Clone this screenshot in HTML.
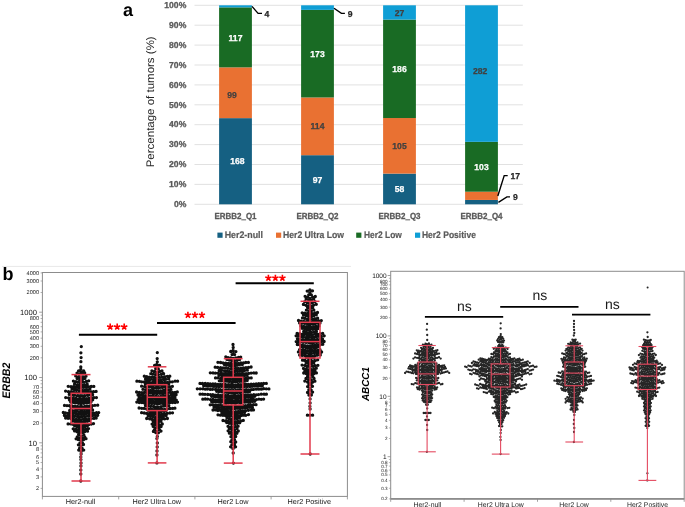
<!DOCTYPE html>
<html><head><meta charset="utf-8"><style>
html,body{margin:0;padding:0;background:#fff;width:685px;height:507px;overflow:hidden}
svg{display:block;will-change:transform}
text{font-family:"Liberation Sans",sans-serif;text-rendering:geometricPrecision}
.tk{font-size:8.6px;font-weight:bold;fill:#595959;stroke:#595959;stroke-width:0.3px}
.bl{font-size:8.6px;font-weight:bold;stroke-width:0.25px}
.cat{font-size:8.8px;font-weight:bold;fill:#595959;stroke:#595959;stroke-width:0.3px}
.ol{font-size:8.6px;font-weight:bold;fill:#262626;stroke:#262626;stroke-width:0.25px}
.lg{font-size:9.5px;font-weight:bold;fill:#595959;stroke:#595959;stroke-width:0.2px}
.yt{font-size:11px;fill:#262626}
.pl{font-size:18px;font-weight:bold;fill:#000}
.bk{font-size:7.6px;fill:#111}
.sk{font-size:5.6px;fill:#222}
.bkr{font-size:6.5px;fill:#111}
.skr{font-size:4.6px;fill:#222}
.xl{font-size:7.3px;fill:#222}
.xr{font-size:6.9px;fill:#222}
.yb{font-size:11px;font-weight:bold;font-style:italic;fill:#000}
.ns{font-size:14px;fill:#1a1a1a}
</style></head><body>
<svg width="685" height="507" viewBox="0 0 685 507">
<line x1="194.5" x2="522.8" y1="204.3" y2="204.3" stroke="#d9d9d9" stroke-width="0.8"/>
<text x="186.3" y="207" text-anchor="end" class="tk">0%</text>
<line x1="194.5" x2="522.8" y1="184.4" y2="184.4" stroke="#d9d9d9" stroke-width="0.8"/>
<text x="186.3" y="187.1" text-anchor="end" class="tk">10%</text>
<line x1="194.5" x2="522.8" y1="164.5" y2="164.5" stroke="#d9d9d9" stroke-width="0.8"/>
<text x="186.3" y="167.2" text-anchor="end" class="tk">20%</text>
<line x1="194.5" x2="522.8" y1="144.6" y2="144.6" stroke="#d9d9d9" stroke-width="0.8"/>
<text x="186.3" y="147.3" text-anchor="end" class="tk">30%</text>
<line x1="194.5" x2="522.8" y1="124.7" y2="124.7" stroke="#d9d9d9" stroke-width="0.8"/>
<text x="186.3" y="127.4" text-anchor="end" class="tk">40%</text>
<line x1="194.5" x2="522.8" y1="104.8" y2="104.8" stroke="#d9d9d9" stroke-width="0.8"/>
<text x="186.3" y="107.5" text-anchor="end" class="tk">50%</text>
<line x1="194.5" x2="522.8" y1="84.9" y2="84.9" stroke="#d9d9d9" stroke-width="0.8"/>
<text x="186.3" y="87.6" text-anchor="end" class="tk">60%</text>
<line x1="194.5" x2="522.8" y1="65" y2="65" stroke="#d9d9d9" stroke-width="0.8"/>
<text x="186.3" y="67.7" text-anchor="end" class="tk">70%</text>
<line x1="194.5" x2="522.8" y1="45.1" y2="45.1" stroke="#d9d9d9" stroke-width="0.8"/>
<text x="186.3" y="47.8" text-anchor="end" class="tk">80%</text>
<line x1="194.5" x2="522.8" y1="25.2" y2="25.2" stroke="#d9d9d9" stroke-width="0.8"/>
<text x="186.3" y="27.9" text-anchor="end" class="tk">90%</text>
<line x1="194.5" x2="522.8" y1="5.3" y2="5.3" stroke="#d9d9d9" stroke-width="0.8"/>
<text x="186.3" y="8" text-anchor="end" class="tk">100%</text>
<rect x="219.1" y="118.14" width="32.8" height="86.16" fill="#156082"/>
<text x="237.3" y="164.3" text-anchor="middle" class="bl" fill="#fff" stroke="#fff">168</text>
<rect x="219.1" y="67.36" width="32.8" height="50.78" fill="#E97132"/>
<text x="232" y="97.8" text-anchor="middle" class="bl" fill="#404040" stroke="#404040">99</text>
<rect x="219.1" y="7.35" width="32.8" height="60.01" fill="#196B24"/>
<text x="235.5" y="40.5" text-anchor="middle" class="bl" fill="#fff" stroke="#fff">117</text>
<rect x="219.1" y="5.30" width="32.8" height="2.05" fill="#0F9ED5"/>
<text x="235.5" y="219.2" text-anchor="middle" class="cat" textLength="42" lengthAdjust="spacingAndGlyphs">ERBB2_Q1</text>
<rect x="301.1" y="155.18" width="32.8" height="49.12" fill="#156082"/>
<text x="317.5" y="182.8" text-anchor="middle" class="bl" fill="#fff" stroke="#fff">97</text>
<rect x="301.1" y="97.46" width="32.8" height="57.73" fill="#E97132"/>
<text x="317.5" y="129.4" text-anchor="middle" class="bl" fill="#404040" stroke="#404040">114</text>
<rect x="301.1" y="9.86" width="32.8" height="87.60" fill="#196B24"/>
<text x="317.5" y="56.8" text-anchor="middle" class="bl" fill="#fff" stroke="#fff">173</text>
<rect x="301.1" y="5.30" width="32.8" height="4.56" fill="#0F9ED5"/>
<text x="317.5" y="219.2" text-anchor="middle" class="cat" textLength="42" lengthAdjust="spacingAndGlyphs">ERBB2_Q2</text>
<rect x="383.1" y="173.60" width="32.8" height="30.70" fill="#156082"/>
<text x="399.5" y="192.1" text-anchor="middle" class="bl" fill="#fff" stroke="#fff">58</text>
<rect x="383.1" y="118.03" width="32.8" height="55.57" fill="#E97132"/>
<text x="399.5" y="148.9" text-anchor="middle" class="bl" fill="#404040" stroke="#404040">105</text>
<rect x="383.1" y="19.59" width="32.8" height="98.44" fill="#196B24"/>
<text x="399.5" y="71.9" text-anchor="middle" class="bl" fill="#fff" stroke="#fff">186</text>
<rect x="383.1" y="5.30" width="32.8" height="14.29" fill="#0F9ED5"/>
<text x="399.5" y="15.5" text-anchor="middle" class="bl" fill="#404040" stroke="#404040">27</text>
<text x="399.5" y="219.2" text-anchor="middle" class="cat" textLength="42" lengthAdjust="spacingAndGlyphs">ERBB2_Q3</text>
<rect x="465.1" y="199.94" width="32.8" height="4.36" fill="#156082"/>
<rect x="465.1" y="191.71" width="32.8" height="8.23" fill="#E97132"/>
<rect x="465.1" y="141.84" width="32.8" height="49.87" fill="#196B24"/>
<text x="481.5" y="169.9" text-anchor="middle" class="bl" fill="#fff" stroke="#fff">103</text>
<rect x="465.1" y="5.30" width="32.8" height="136.54" fill="#0F9ED5"/>
<text x="480.1" y="74.1" text-anchor="middle" class="bl" fill="#404040" stroke="#404040">282</text>
<text x="481.5" y="219.2" text-anchor="middle" class="cat" textLength="42" lengthAdjust="spacingAndGlyphs">ERBB2_Q4</text>
<polyline points="252,6.4 258.1,13.4 262,13.4" stroke="#000" stroke-width="1.4" fill="none"/>
<text x="264.6" y="16.9" class="ol">4</text>
<polyline points="334,8.2 341.4,13.4 344.9,13.4" stroke="#000" stroke-width="1.4" fill="none"/>
<text x="347.7" y="17" class="ol">9</text>
<polyline points="497.8,196 504.2,175.6 507.7,175.6" stroke="#000" stroke-width="1.4" fill="none"/>
<text x="510.6" y="178.8" class="ol">17</text>
<polyline points="498.4,202.3 506.9,196.9 510,196.9" stroke="#000" stroke-width="1.4" fill="none"/>
<text x="513" y="200.4" class="ol">9</text>
<rect x="217.4" y="232.6" width="5.2" height="5.2" fill="#156082"/>
<text x="224.7" y="238.4" class="lg" textLength="38.3" lengthAdjust="spacingAndGlyphs">Her2-null</text>
<rect x="276" y="232.6" width="5.2" height="5.2" fill="#E97132"/>
<text x="283" y="238.4" class="lg" textLength="61" lengthAdjust="spacingAndGlyphs">Her2 Ultra Low</text>
<rect x="356.2" y="232.6" width="5.2" height="5.2" fill="#196B24"/>
<text x="364" y="238.4" class="lg" textLength="37.8" lengthAdjust="spacingAndGlyphs">Her2 Low</text>
<rect x="415" y="232.6" width="5.2" height="5.2" fill="#0F9ED5"/>
<text x="421.9" y="238.4" class="lg" textLength="54" lengthAdjust="spacingAndGlyphs">Her2 Positive</text>
<text transform="translate(153.8,101.8) rotate(-90)" text-anchor="middle" class="yt" textLength="131" lengthAdjust="spacingAndGlyphs">Percentage of tumors (%)</text>
<text x="123" y="16" class="pl">a</text>
<line x1="2" x2="351" y1="266.4" y2="266.4" stroke="#e8e8e8" stroke-width="1"/>
<text x="2.6" y="279.8" class="pl">b</text>
<rect x="42.4" y="272.5" width="305.0" height="223.9" fill="none" stroke="#8c8c8c" stroke-width="1"/>
<line x1="40.6" x2="42.4" y1="488.4" y2="488.4" stroke="#8c8c8c" stroke-width="0.7"/>
<text x="39" y="490.2" text-anchor="end" class="sk">2</text>
<line x1="40.6" x2="42.4" y1="476.9" y2="476.9" stroke="#8c8c8c" stroke-width="0.7"/>
<text x="39" y="478.7" text-anchor="end" class="sk">3</text>
<line x1="40.6" x2="42.4" y1="468.8" y2="468.8" stroke="#8c8c8c" stroke-width="0.7"/>
<text x="39" y="470.6" text-anchor="end" class="sk">4</text>
<line x1="40.6" x2="42.4" y1="462.5" y2="462.5" stroke="#8c8c8c" stroke-width="0.7"/>
<text x="39" y="464.3" text-anchor="end" class="sk">5</text>
<line x1="40.6" x2="42.4" y1="457.3" y2="457.3" stroke="#8c8c8c" stroke-width="0.7"/>
<text x="39" y="459.1" text-anchor="end" class="sk">6</text>
<line x1="40.6" x2="42.4" y1="452.9" y2="452.9" stroke="#8c8c8c" stroke-width="0.7"/>
<line x1="40.6" x2="42.4" y1="449.1" y2="449.1" stroke="#8c8c8c" stroke-width="0.7"/>
<text x="39" y="450.9" text-anchor="end" class="sk">8</text>
<line x1="40.6" x2="42.4" y1="445.8" y2="445.8" stroke="#8c8c8c" stroke-width="0.7"/>
<line x1="39.2" x2="42.4" y1="442.8" y2="442.8" stroke="#8c8c8c" stroke-width="0.8"/>
<text x="37" y="445.5" text-anchor="end" class="bk">10</text>
<line x1="40.6" x2="42.4" y1="423.1" y2="423.1" stroke="#8c8c8c" stroke-width="0.7"/>
<text x="39" y="424.9" text-anchor="end" class="sk">20</text>
<line x1="40.6" x2="42.4" y1="411.6" y2="411.6" stroke="#8c8c8c" stroke-width="0.7"/>
<text x="39" y="413.4" text-anchor="end" class="sk">30</text>
<line x1="40.6" x2="42.4" y1="403.5" y2="403.5" stroke="#8c8c8c" stroke-width="0.7"/>
<text x="39" y="405.3" text-anchor="end" class="sk">40</text>
<line x1="40.6" x2="42.4" y1="397.2" y2="397.2" stroke="#8c8c8c" stroke-width="0.7"/>
<text x="39" y="399" text-anchor="end" class="sk">50</text>
<line x1="40.6" x2="42.4" y1="392" y2="392" stroke="#8c8c8c" stroke-width="0.7"/>
<text x="39" y="393.8" text-anchor="end" class="sk">60</text>
<line x1="40.6" x2="42.4" y1="387.6" y2="387.6" stroke="#8c8c8c" stroke-width="0.7"/>
<text x="39" y="389.4" text-anchor="end" class="sk">70</text>
<line x1="40.6" x2="42.4" y1="383.8" y2="383.8" stroke="#8c8c8c" stroke-width="0.7"/>
<line x1="40.6" x2="42.4" y1="380.5" y2="380.5" stroke="#8c8c8c" stroke-width="0.7"/>
<line x1="39.2" x2="42.4" y1="377.5" y2="377.5" stroke="#8c8c8c" stroke-width="0.8"/>
<text x="37" y="380.2" text-anchor="end" class="bk">100</text>
<line x1="40.6" x2="42.4" y1="357.8" y2="357.8" stroke="#8c8c8c" stroke-width="0.7"/>
<text x="39" y="359.6" text-anchor="end" class="sk">200</text>
<line x1="40.6" x2="42.4" y1="346.3" y2="346.3" stroke="#8c8c8c" stroke-width="0.7"/>
<text x="39" y="348.1" text-anchor="end" class="sk">300</text>
<line x1="40.6" x2="42.4" y1="338.2" y2="338.2" stroke="#8c8c8c" stroke-width="0.7"/>
<text x="39" y="340" text-anchor="end" class="sk">400</text>
<line x1="40.6" x2="42.4" y1="331.9" y2="331.9" stroke="#8c8c8c" stroke-width="0.7"/>
<text x="39" y="333.7" text-anchor="end" class="sk">500</text>
<line x1="40.6" x2="42.4" y1="326.7" y2="326.7" stroke="#8c8c8c" stroke-width="0.7"/>
<text x="39" y="328.5" text-anchor="end" class="sk">600</text>
<line x1="40.6" x2="42.4" y1="322.3" y2="322.3" stroke="#8c8c8c" stroke-width="0.7"/>
<line x1="40.6" x2="42.4" y1="318.5" y2="318.5" stroke="#8c8c8c" stroke-width="0.7"/>
<text x="39" y="320.3" text-anchor="end" class="sk">800</text>
<line x1="40.6" x2="42.4" y1="315.2" y2="315.2" stroke="#8c8c8c" stroke-width="0.7"/>
<line x1="39.2" x2="42.4" y1="312.2" y2="312.2" stroke="#8c8c8c" stroke-width="0.8"/>
<text x="37" y="314.9" text-anchor="end" class="bk">1000</text>
<line x1="40.6" x2="42.4" y1="292.5" y2="292.5" stroke="#8c8c8c" stroke-width="0.7"/>
<text x="39" y="294.3" text-anchor="end" class="sk">2000</text>
<line x1="40.6" x2="42.4" y1="281" y2="281" stroke="#8c8c8c" stroke-width="0.7"/>
<text x="39" y="282.8" text-anchor="end" class="sk">3000</text>
<line x1="40.6" x2="42.4" y1="272.9" y2="272.9" stroke="#8c8c8c" stroke-width="0.7"/>
<text x="39" y="274.7" text-anchor="end" class="sk">4000</text>
<line x1="42.4" x2="42.4" y1="496.4" y2="499.4" stroke="#8c8c8c" stroke-width="0.8"/>
<line x1="118.7" x2="118.7" y1="496.4" y2="499.4" stroke="#8c8c8c" stroke-width="0.8"/>
<line x1="194.9" x2="194.9" y1="496.4" y2="499.4" stroke="#8c8c8c" stroke-width="0.8"/>
<line x1="271.1" x2="271.1" y1="496.4" y2="499.4" stroke="#8c8c8c" stroke-width="0.8"/>
<line x1="347.4" x2="347.4" y1="496.4" y2="499.4" stroke="#8c8c8c" stroke-width="0.8"/>
<text x="80.5" y="504.2" text-anchor="middle" class="xl">Her2-null</text>
<text x="156.8" y="504.2" text-anchor="middle" class="xl">Her2 Ultra Low</text>
<text x="233" y="504.2" text-anchor="middle" class="xl">Her2 Low</text>
<text x="309.3" y="504.2" text-anchor="middle" class="xl">Her2 Positive</text>
<text transform="translate(9.8,380.6) rotate(-90)" text-anchor="middle" class="yb" textLength="36" lengthAdjust="spacingAndGlyphs">ERBB2</text>
<rect x="390.7" y="271.3" width="293.5" height="227.5" fill="none" stroke="#8c8c8c" stroke-width="1"/>
<line x1="390.7" x2="684.2" y1="498.8" y2="498.8" stroke="#8c8c8c" stroke-width="1.8"/>
<line x1="388.9" x2="390.7" y1="498.9" y2="498.9" stroke="#8c8c8c" stroke-width="0.6"/>
<text x="387.6" y="500.4" text-anchor="end" class="skr">0.2</text>
<line x1="388.9" x2="390.7" y1="488.3" y2="488.3" stroke="#8c8c8c" stroke-width="0.6"/>
<text x="387.6" y="489.8" text-anchor="end" class="skr">0.3</text>
<line x1="388.9" x2="390.7" y1="480.7" y2="480.7" stroke="#8c8c8c" stroke-width="0.6"/>
<text x="387.6" y="482.2" text-anchor="end" class="skr">0.4</text>
<line x1="388.9" x2="390.7" y1="474.9" y2="474.9" stroke="#8c8c8c" stroke-width="0.6"/>
<text x="387.6" y="476.4" text-anchor="end" class="skr">0.5</text>
<line x1="388.9" x2="390.7" y1="470.1" y2="470.1" stroke="#8c8c8c" stroke-width="0.6"/>
<text x="387.6" y="471.6" text-anchor="end" class="skr">0.6</text>
<line x1="388.9" x2="390.7" y1="466.1" y2="466.1" stroke="#8c8c8c" stroke-width="0.6"/>
<text x="387.6" y="467.6" text-anchor="end" class="skr">0.7</text>
<line x1="388.9" x2="390.7" y1="462.6" y2="462.6" stroke="#8c8c8c" stroke-width="0.6"/>
<text x="387.6" y="464.1" text-anchor="end" class="skr">0.8</text>
<line x1="388.9" x2="390.7" y1="459.5" y2="459.5" stroke="#8c8c8c" stroke-width="0.6"/>
<line x1="387.6" x2="390.7" y1="456.7" y2="456.7" stroke="#8c8c8c" stroke-width="0.8"/>
<text x="386.6" y="458.9" text-anchor="end" class="bkr">1</text>
<line x1="388.9" x2="390.7" y1="438.5" y2="438.5" stroke="#8c8c8c" stroke-width="0.6"/>
<text x="387.6" y="440" text-anchor="end" class="skr">2</text>
<line x1="388.9" x2="390.7" y1="427.9" y2="427.9" stroke="#8c8c8c" stroke-width="0.6"/>
<text x="387.6" y="429.4" text-anchor="end" class="skr">3</text>
<line x1="388.9" x2="390.7" y1="420.3" y2="420.3" stroke="#8c8c8c" stroke-width="0.6"/>
<text x="387.6" y="421.8" text-anchor="end" class="skr">4</text>
<line x1="388.9" x2="390.7" y1="414.5" y2="414.5" stroke="#8c8c8c" stroke-width="0.6"/>
<text x="387.6" y="416" text-anchor="end" class="skr">5</text>
<line x1="388.9" x2="390.7" y1="409.7" y2="409.7" stroke="#8c8c8c" stroke-width="0.6"/>
<text x="387.6" y="411.2" text-anchor="end" class="skr">6</text>
<line x1="388.9" x2="390.7" y1="405.7" y2="405.7" stroke="#8c8c8c" stroke-width="0.6"/>
<text x="387.6" y="407.2" text-anchor="end" class="skr">7</text>
<line x1="388.9" x2="390.7" y1="402.2" y2="402.2" stroke="#8c8c8c" stroke-width="0.6"/>
<text x="387.6" y="403.7" text-anchor="end" class="skr">8</text>
<line x1="388.9" x2="390.7" y1="399.1" y2="399.1" stroke="#8c8c8c" stroke-width="0.6"/>
<line x1="387.6" x2="390.7" y1="396.3" y2="396.3" stroke="#8c8c8c" stroke-width="0.8"/>
<text x="386.6" y="398.5" text-anchor="end" class="bkr">10</text>
<line x1="388.9" x2="390.7" y1="378.1" y2="378.1" stroke="#8c8c8c" stroke-width="0.6"/>
<text x="387.6" y="379.6" text-anchor="end" class="skr">20</text>
<line x1="388.9" x2="390.7" y1="367.5" y2="367.5" stroke="#8c8c8c" stroke-width="0.6"/>
<text x="387.6" y="369" text-anchor="end" class="skr">30</text>
<line x1="388.9" x2="390.7" y1="359.9" y2="359.9" stroke="#8c8c8c" stroke-width="0.6"/>
<text x="387.6" y="361.4" text-anchor="end" class="skr">40</text>
<line x1="388.9" x2="390.7" y1="354.1" y2="354.1" stroke="#8c8c8c" stroke-width="0.6"/>
<text x="387.6" y="355.6" text-anchor="end" class="skr">50</text>
<line x1="388.9" x2="390.7" y1="349.3" y2="349.3" stroke="#8c8c8c" stroke-width="0.6"/>
<text x="387.6" y="350.8" text-anchor="end" class="skr">60</text>
<line x1="388.9" x2="390.7" y1="345.3" y2="345.3" stroke="#8c8c8c" stroke-width="0.6"/>
<text x="387.6" y="346.8" text-anchor="end" class="skr">70</text>
<line x1="388.9" x2="390.7" y1="341.8" y2="341.8" stroke="#8c8c8c" stroke-width="0.6"/>
<text x="387.6" y="343.3" text-anchor="end" class="skr">80</text>
<line x1="388.9" x2="390.7" y1="338.7" y2="338.7" stroke="#8c8c8c" stroke-width="0.6"/>
<line x1="387.6" x2="390.7" y1="335.9" y2="335.9" stroke="#8c8c8c" stroke-width="0.8"/>
<text x="386.6" y="338.1" text-anchor="end" class="bkr">100</text>
<line x1="388.9" x2="390.7" y1="317.7" y2="317.7" stroke="#8c8c8c" stroke-width="0.6"/>
<text x="387.6" y="319.2" text-anchor="end" class="skr">200</text>
<line x1="388.9" x2="390.7" y1="307.1" y2="307.1" stroke="#8c8c8c" stroke-width="0.6"/>
<text x="387.6" y="308.6" text-anchor="end" class="skr">300</text>
<line x1="388.9" x2="390.7" y1="299.5" y2="299.5" stroke="#8c8c8c" stroke-width="0.6"/>
<text x="387.6" y="301" text-anchor="end" class="skr">400</text>
<line x1="388.9" x2="390.7" y1="293.7" y2="293.7" stroke="#8c8c8c" stroke-width="0.6"/>
<text x="387.6" y="295.2" text-anchor="end" class="skr">500</text>
<line x1="388.9" x2="390.7" y1="288.9" y2="288.9" stroke="#8c8c8c" stroke-width="0.6"/>
<text x="387.6" y="290.4" text-anchor="end" class="skr">600</text>
<line x1="388.9" x2="390.7" y1="284.9" y2="284.9" stroke="#8c8c8c" stroke-width="0.6"/>
<text x="387.6" y="286.4" text-anchor="end" class="skr">700</text>
<line x1="388.9" x2="390.7" y1="281.4" y2="281.4" stroke="#8c8c8c" stroke-width="0.6"/>
<text x="387.6" y="282.9" text-anchor="end" class="skr">800</text>
<line x1="388.9" x2="390.7" y1="278.3" y2="278.3" stroke="#8c8c8c" stroke-width="0.6"/>
<line x1="387.6" x2="390.7" y1="275.5" y2="275.5" stroke="#8c8c8c" stroke-width="0.8"/>
<text x="386.6" y="277.7" text-anchor="end" class="bkr">1000</text>
<line x1="390.7" x2="390.7" y1="498.8" y2="501.8" stroke="#8c8c8c" stroke-width="0.8"/>
<line x1="464.1" x2="464.1" y1="498.8" y2="501.8" stroke="#8c8c8c" stroke-width="0.8"/>
<line x1="537.5" x2="537.5" y1="498.8" y2="501.8" stroke="#8c8c8c" stroke-width="0.8"/>
<line x1="610.8" x2="610.8" y1="498.8" y2="501.8" stroke="#8c8c8c" stroke-width="0.8"/>
<line x1="684.2" x2="684.2" y1="498.8" y2="501.8" stroke="#8c8c8c" stroke-width="0.8"/>
<text x="427.4" y="506.6" text-anchor="middle" class="xr">Her2-null</text>
<text x="500.8" y="506.6" text-anchor="middle" class="xr">Her2 Ultra Low</text>
<text x="574.1" y="506.6" text-anchor="middle" class="xr">Her2 Low</text>
<text x="647.5" y="506.6" text-anchor="middle" class="xr">Her2 Positive</text>
<text transform="translate(369.4,384.1) rotate(-90)" text-anchor="middle" class="yb" textLength="34" lengthAdjust="spacingAndGlyphs" style="font-size:10.2px">ABCC1</text>
<path d="M80.8 366.9h0M80.8 369.4h0M78.6 370.8h0M80.9 372.1h0M83.7 371.0h0M82.4 373.9h0M84.7 372.9h0M79.6 374.1h0M77.0 373.1h0M75.7 375.9h0M78.3 376.9h0M81.0 377.3h0M83.6 376.8h0M86.0 376.2h0M82.3 379.7h0M84.9 378.4h0M79.9 379.4h0M77.1 378.6h0M73.4 381.1h0M75.9 381.6h0M78.4 382.0h0M81.0 382.5h0M83.5 382.1h0M86.3 381.5h0M88.7 380.8h0M82.4 385.3h0M84.8 384.9h0M87.2 384.2h0M79.6 385.2h0M77.0 384.9h0M74.5 384.1h0M68.2 386.3h0M71.0 386.7h0M73.5 386.7h0M75.9 387.1h0M78.6 387.6h0M80.8 387.6h0M83.4 387.3h0M86.1 387.2h0M88.5 386.6h0M91.2 386.5h0M93.8 386.4h0M82.4 390.3h0M85.0 390.2h0M87.5 389.8h0M89.9 389.1h0M79.6 390.6h0M77.0 389.9h0M74.5 389.5h0M72.0 389.0h0M65.6 391.1h0M68.4 391.7h0M70.6 391.8h0M73.3 392.1h0M75.7 392.6h0M78.7 392.8h0M81.0 392.9h0M83.4 392.7h0M86.0 392.6h0M88.5 392.0h0M91.4 391.9h0M93.6 391.7h0M96.1 391.4h0M82.2 395.8h0M84.7 395.7h0M87.4 395.3h0M89.9 394.7h0M92.6 394.7h0M79.9 396.0h0M77.3 395.7h0M74.5 395.2h0M72.0 394.7h0M69.3 394.4h0M65.7 397.6h0M68.5 397.8h0M70.7 397.8h0M73.2 398.0h0M75.8 398.4h0M78.6 398.8h0M81.0 398.9h0M83.7 398.4h0M86.2 398.6h0M88.8 398.2h0M91.2 397.7h0M93.9 397.6h0M96.4 397.6h0M82.4 401.2h0M84.7 400.8h0M87.6 400.7h0M89.8 400.3h0M92.7 399.8h0M79.7 401.3h0M77.0 400.7h0M74.8 400.6h0M72.1 400.3h0M69.5 399.9h0M70.7 402.0h0M73.4 402.4h0M75.9 402.8h0M78.6 403.3h0M81.0 403.8h0M83.7 403.3h0M86.3 402.9h0M88.7 402.5h0M91.0 402.1h0M82.1 406.6h0M84.9 406.4h0M87.3 406.2h0M89.9 406.0h0M92.3 405.7h0M94.9 405.3h0M97.7 405.2h0M79.8 406.7h0M77.4 406.4h0M74.7 406.1h0M72.1 406.0h0M69.5 405.7h0M67.0 405.6h0M64.5 405.4h0M71.0 407.8h0M73.2 407.9h0M75.9 408.3h0M78.3 408.7h0M81.1 409.4h0M83.7 408.7h0M86.2 408.5h0M88.5 408.2h0M91.4 407.6h0M82.5 411.8h0M84.7 411.3h0M87.4 410.9h0M89.8 410.5h0M92.6 410.0h0M79.7 411.6h0M77.0 411.2h0M74.7 410.9h0M71.9 410.8h0M69.7 410.4h0M63.3 412.5h0M65.5 412.8h0M68.4 413.2h0M70.7 413.1h0M73.5 413.5h0M76.0 413.6h0M78.3 414.1h0M81.0 414.0h0M83.7 414.0h0M86.2 413.6h0M88.8 413.3h0M91.4 413.2h0M93.7 413.1h0M96.5 412.7h0M98.7 412.6h0M82.1 416.7h0M84.7 416.5h0M87.5 416.2h0M89.9 415.9h0M92.4 415.6h0M94.9 415.3h0M97.7 415.3h0M79.6 416.8h0M77.4 416.4h0M74.8 416.3h0M72.1 416.2h0M69.5 415.8h0M67.1 415.7h0M64.4 415.4h0M65.6 418.0h0M68.1 418.3h0M70.9 418.6h0M73.2 418.8h0M76.1 419.4h0M78.5 419.4h0M80.9 419.6h0M83.5 419.3h0M86.1 419.1h0M88.9 419.2h0M91.2 418.6h0M94.0 418.4h0M96.2 418.0h0M82.1 422.2h0M84.6 421.7h0M87.2 421.3h0M89.7 420.7h0M79.6 422.1h0M77.2 421.8h0M74.7 421.4h0M72.2 421.0h0M68.1 423.9h0M70.9 423.9h0M73.5 424.6h0M76.0 424.8h0M78.6 424.9h0M81.0 425.4h0M83.7 425.2h0M86.2 424.8h0M88.8 424.5h0M91.3 424.0h0M93.5 423.6h0M82.3 427.6h0M84.9 426.9h0M87.4 425.8h0M79.9 427.7h0M77.2 426.8h0M74.7 425.9h0M73.2 428.8h0M75.8 429.3h0M78.7 429.7h0M80.9 430.1h0M83.6 429.8h0M86.2 429.2h0M88.5 428.6h0M82.3 432.3h0M84.6 431.7h0M87.5 431.2h0M79.8 432.5h0M77.2 431.8h0M74.6 430.9h0M78.6 434.6h0M81.0 436.1h0M83.8 434.8h0M82.1 438.0h0M84.7 436.8h0M79.9 437.8h0M77.3 436.8h0M76.1 438.8h0M78.2 439.6h0M81.0 440.8h0M83.5 439.7h0M86.0 438.7h0M82.4 442.8h0M79.9 443.1h0M78.4 444.8h0M81.0 446.2h0M83.5 444.5h0M82.2 448.5h0M79.6 448.2h0M78.7 450.1h0M81.1 451.6h0M83.7 450.1h0M81.1 454.0h0M80.8 457.0h0M80.9 459.6h0M81.3 346.6h0M80.9 352.8h0M81.1 357.6h0M80.9 361.7h0M81.0 463.0h0M80.9 466.0h0M80.8 470.0h0M80.8 474.0h0M80.8 481.0h0" stroke="#111" stroke-width="3.3" stroke-linecap="round" fill="none"/>
<path d="M157.3 361.8h0M156.9 364.2h0M154.6 365.5h0M157.2 366.9h0M159.6 365.4h0M158.3 368.9h0M155.7 368.7h0M151.9 370.8h0M154.5 371.5h0M157.3 372.4h0M159.8 371.4h0M162.0 371.0h0M158.2 374.7h0M161.1 374.3h0M163.6 373.7h0M155.7 374.6h0M153.1 374.1h0M150.8 373.7h0M144.3 376.2h0M146.7 376.7h0M149.3 377.1h0M152.1 377.1h0M154.4 377.4h0M157.2 377.9h0M159.5 377.3h0M162.2 377.2h0M164.7 376.7h0M167.3 376.3h0M169.8 376.2h0M158.4 380.3h0M160.8 380.2h0M163.6 379.6h0M165.8 379.3h0M168.7 378.9h0M155.7 380.5h0M153.5 379.9h0M150.5 379.6h0M148.1 379.4h0M145.5 379.1h0M136.9 381.2h0M139.4 381.3h0M141.7 381.8h0M144.3 382.0h0M146.9 381.9h0M149.3 382.2h0M152.1 382.6h0M154.4 382.6h0M157.0 383.0h0M159.5 382.4h0M162.0 382.4h0M164.9 382.4h0M167.4 382.3h0M170.0 381.8h0M172.3 381.8h0M175.1 381.2h0M177.6 381.2h0M158.2 385.2h0M160.9 385.1h0M163.3 384.8h0M165.9 384.2h0M168.7 384.1h0M155.8 385.1h0M153.3 384.9h0M150.9 384.5h0M148.1 384.4h0M145.4 383.9h0M141.6 386.2h0M144.5 386.6h0M147.0 387.1h0M149.4 387.1h0M152.2 387.5h0M154.4 387.8h0M157.0 387.9h0M159.4 387.9h0M162.4 387.5h0M164.9 387.0h0M167.2 386.9h0M170.1 386.9h0M172.4 386.3h0M158.2 391.2h0M161.0 390.9h0M163.6 390.5h0M165.9 390.0h0M168.5 389.9h0M170.9 389.4h0M155.9 390.9h0M153.1 390.5h0M150.7 390.4h0M148.4 390.3h0M145.8 389.7h0M142.9 389.3h0M136.6 392.0h0M139.3 392.3h0M141.9 392.6h0M144.4 392.4h0M147.0 392.7h0M149.5 392.9h0M152.1 393.0h0M154.4 393.3h0M156.9 393.7h0M159.7 393.3h0M162.2 393.4h0M164.8 392.9h0M167.4 392.9h0M170.1 392.4h0M172.4 392.5h0M175.1 392.4h0M177.3 391.9h0M158.4 396.6h0M160.9 396.4h0M163.5 395.9h0M166.1 396.0h0M168.4 395.6h0M171.2 395.2h0M173.6 395.0h0M176.1 394.8h0M155.9 396.5h0M153.1 396.0h0M150.6 396.1h0M148.0 395.7h0M145.5 395.7h0M143.1 395.2h0M140.3 395.1h0M138.0 395.0h0M139.2 397.4h0M141.7 397.9h0M144.3 398.0h0M146.8 398.1h0M149.6 398.6h0M151.9 398.4h0M154.7 398.7h0M156.9 399.2h0M159.6 398.9h0M162.2 398.8h0M164.7 398.2h0M167.1 398.2h0M169.9 398.1h0M172.2 397.8h0M174.9 397.5h0M158.6 401.3h0M160.9 401.4h0M163.7 400.9h0M165.9 401.0h0M168.8 400.6h0M170.9 400.6h0M173.6 400.3h0M176.3 400.1h0M155.7 401.6h0M153.2 401.2h0M150.9 401.2h0M148.0 400.7h0M145.6 400.6h0M143.0 400.2h0M140.4 400.3h0M138.1 399.7h0M136.8 402.1h0M139.3 402.5h0M141.9 402.6h0M144.3 402.9h0M146.9 403.2h0M149.4 403.3h0M151.8 403.6h0M154.5 403.6h0M157.2 404.0h0M159.6 403.6h0M162.2 403.3h0M164.6 403.3h0M167.1 403.1h0M169.9 402.7h0M172.5 402.5h0M175.1 402.6h0M177.5 402.1h0M158.2 407.1h0M161.1 406.7h0M163.6 406.1h0M166.2 405.9h0M168.8 405.7h0M155.7 407.1h0M153.5 406.4h0M150.7 406.3h0M148.0 406.0h0M145.5 405.6h0M139.1 408.0h0M141.8 408.3h0M144.1 408.4h0M146.8 409.0h0M149.5 409.2h0M151.9 409.4h0M154.4 409.5h0M157.2 409.7h0M159.8 409.5h0M162.2 409.4h0M164.6 409.3h0M167.4 408.8h0M170.0 408.5h0M172.6 408.4h0M174.9 408.2h0M158.2 412.2h0M160.8 411.6h0M163.7 411.0h0M166.1 410.4h0M155.6 411.8h0M153.1 411.6h0M150.7 411.0h0M148.3 410.3h0M141.6 412.7h0M144.2 413.0h0M146.8 413.4h0M149.5 413.5h0M152.1 413.9h0M154.4 414.4h0M157.0 414.4h0M159.5 414.3h0M162.4 414.1h0M164.7 413.6h0M167.1 413.4h0M169.9 413.0h0M172.5 412.8h0M158.6 416.9h0M160.9 416.6h0M163.4 416.0h0M166.1 415.6h0M155.8 417.3h0M153.1 416.5h0M150.8 416.2h0M148.2 415.9h0M146.7 418.5h0M149.6 418.8h0M151.8 419.3h0M154.7 419.5h0M157.2 420.0h0M159.5 419.4h0M162.1 418.9h0M164.7 418.8h0M167.4 418.5h0M158.3 422.4h0M160.9 421.3h0M155.9 422.5h0M153.2 421.6h0M152.1 424.1h0M154.7 424.5h0M157.3 425.2h0M159.5 424.8h0M162.3 424.0h0M158.5 427.6h0M161.1 426.5h0M155.9 427.6h0M153.2 426.4h0M154.4 429.6h0M156.9 431.1h0M159.6 429.6h0M158.4 432.8h0M161.0 431.1h0M155.9 432.7h0M153.4 431.4h0M157.3 436.4h0M156.9 438.6h0M157.3 352.6h0M157.2 358.6h0M157.3 443.0h0M157.2 447.0h0M157.0 451.0h0M156.9 455.0h0M156.9 462.9h0" stroke="#111" stroke-width="3.3" stroke-linecap="round" fill="none"/>
<path d="M233.2 347.5h0M233.1 350.5h0M230.7 351.5h0M233.2 353.3h0M235.9 351.6h0M234.6 354.6h0M232.1 354.6h0M225.8 356.8h0M228.1 357.6h0M230.8 357.9h0M233.2 358.5h0M235.9 357.9h0M238.5 357.5h0M240.7 357.1h0M234.3 361.0h0M237.1 360.4h0M239.6 359.6h0M231.9 360.8h0M229.5 360.1h0M227.0 359.4h0M217.9 362.3h0M220.6 362.5h0M223.0 362.9h0M225.7 363.2h0M228.2 363.3h0M230.6 363.5h0M233.4 364.0h0M235.9 363.5h0M238.3 363.5h0M240.9 363.0h0M243.4 363.0h0M245.8 362.5h0M248.4 362.4h0M234.4 365.8h0M237.0 365.3h0M239.5 364.8h0M242.3 364.6h0M231.7 366.1h0M229.2 365.4h0M227.0 365.1h0M224.4 364.5h0M215.2 367.2h0M217.7 367.4h0M220.6 367.7h0M223.0 367.9h0M225.5 367.9h0M228.1 368.3h0M230.8 368.7h0M233.2 368.8h0M235.9 368.5h0M238.2 368.4h0M241.0 368.2h0M243.5 368.0h0M246.0 367.7h0M248.5 367.4h0M251.1 367.0h0M234.5 371.5h0M237.0 371.3h0M239.6 371.0h0M242.2 371.0h0M244.5 370.6h0M247.3 370.2h0M231.9 371.8h0M229.2 371.4h0M226.7 371.2h0M224.5 370.8h0M221.5 370.6h0M219.2 370.4h0M210.3 372.8h0M213.0 372.9h0M215.4 373.1h0M218.0 373.2h0M220.7 373.5h0M222.8 373.7h0M225.5 373.7h0M228.1 374.1h0M230.7 374.2h0M233.1 374.4h0M235.9 374.5h0M238.3 374.0h0M241.0 373.9h0M243.3 373.6h0M246.1 373.7h0M248.6 373.4h0M251.1 373.1h0M253.8 372.9h0M256.2 373.0h0M234.5 376.5h0M237.2 376.3h0M239.7 376.0h0M242.1 375.7h0M244.6 375.4h0M247.0 375.3h0M231.8 376.6h0M229.3 376.4h0M226.8 376.2h0M224.3 375.8h0M221.9 375.7h0M219.0 375.4h0M215.5 377.9h0M217.7 377.8h0M220.6 378.4h0M222.9 378.3h0M225.4 378.6h0M228.2 378.9h0M230.5 379.3h0M233.3 379.2h0M235.9 379.2h0M238.4 379.0h0M241.0 378.8h0M243.5 378.4h0M246.0 378.3h0M248.6 378.0h0M251.2 377.9h0M234.5 381.7h0M237.0 381.5h0M239.6 381.4h0M242.1 381.3h0M244.5 381.0h0M247.2 380.6h0M232.0 382.0h0M229.3 381.6h0M227.0 381.2h0M224.3 381.2h0M221.5 380.9h0M219.3 380.8h0M200.0 383.4h0M202.4 383.5h0M205.2 383.4h0M207.9 383.6h0M210.2 383.8h0M212.9 383.8h0M215.3 384.0h0M217.9 384.3h0M220.4 384.4h0M223.0 384.4h0M225.4 384.5h0M228.3 384.7h0M230.8 384.7h0M233.1 384.8h0M235.8 384.8h0M238.4 384.4h0M240.9 384.7h0M243.4 384.2h0M245.9 384.1h0M248.4 384.3h0M251.1 384.1h0M253.7 384.1h0M256.2 383.8h0M258.8 383.7h0M261.3 383.6h0M263.7 383.5h0M266.3 383.4h0M234.6 387.4h0M237.1 387.0h0M239.7 387.1h0M242.2 386.7h0M244.6 386.6h0M247.1 386.5h0M249.8 386.6h0M252.1 386.3h0M254.7 386.0h0M257.6 386.0h0M260.2 385.8h0M262.3 385.7h0M232.0 387.4h0M229.6 387.1h0M226.8 386.8h0M224.3 386.7h0M221.6 386.4h0M219.0 386.6h0M216.5 386.6h0M213.9 386.4h0M211.4 385.9h0M209.1 385.9h0M206.5 385.7h0M203.7 385.8h0M197.3 388.8h0M200.1 388.8h0M202.8 388.8h0M205.4 389.2h0M207.5 389.0h0M210.3 389.4h0M212.6 389.3h0M215.5 389.4h0M218.1 389.6h0M220.3 389.7h0M223.0 389.8h0M225.6 389.8h0M228.2 390.0h0M230.7 390.3h0M233.2 390.3h0M235.9 390.4h0M238.4 390.1h0M240.8 389.8h0M243.6 390.0h0M246.1 389.7h0M248.5 389.9h0M251.2 389.6h0M253.5 389.4h0M256.3 389.2h0M258.8 389.2h0M261.4 389.2h0M263.7 388.7h0M266.2 388.8h0M268.9 388.9h0M234.6 393.1h0M237.1 392.6h0M239.7 392.5h0M242.2 392.3h0M244.6 391.7h0M247.2 391.8h0M249.6 391.5h0M232.1 392.8h0M229.4 392.7h0M226.8 392.3h0M224.2 392.3h0M221.9 391.9h0M219.0 391.8h0M216.7 391.3h0M200.1 394.2h0M202.6 394.2h0M205.0 394.3h0M207.8 394.5h0M210.3 394.6h0M212.8 394.6h0M215.1 395.1h0M217.8 394.8h0M220.5 395.3h0M222.8 395.3h0M225.5 395.4h0M227.9 395.3h0M230.9 395.8h0M233.2 395.8h0M235.6 395.7h0M238.3 395.7h0M241.0 395.5h0M243.6 395.1h0M245.7 395.0h0M248.4 394.8h0M250.9 394.9h0M253.8 394.7h0M256.3 394.8h0M258.5 394.6h0M261.2 394.2h0M264.0 394.2h0M266.4 394.2h0M234.5 397.8h0M237.2 398.0h0M239.5 397.4h0M242.0 397.3h0M244.9 397.4h0M247.4 396.8h0M249.9 396.9h0M252.4 396.9h0M254.7 396.3h0M232.0 398.2h0M229.5 397.7h0M226.9 397.7h0M224.1 397.3h0M221.6 397.1h0M219.2 396.9h0M216.5 396.7h0M214.2 396.4h0M211.6 396.3h0M202.8 399.2h0M205.3 399.0h0M207.7 399.1h0M210.4 399.6h0M212.9 399.5h0M215.3 399.8h0M217.9 399.9h0M220.3 399.8h0M222.8 400.2h0M225.6 400.1h0M228.3 400.3h0M230.6 400.3h0M233.1 400.8h0M235.7 400.3h0M238.3 400.3h0M241.0 400.0h0M243.6 399.9h0M246.1 400.0h0M248.4 399.8h0M251.0 399.6h0M253.5 399.5h0M256.4 399.6h0M258.9 399.1h0M261.2 399.3h0M263.6 399.1h0M234.6 403.0h0M236.9 402.6h0M239.7 402.7h0M242.0 402.4h0M244.9 402.2h0M247.3 401.9h0M249.6 402.0h0M252.4 401.6h0M254.7 401.3h0M232.0 403.1h0M229.3 402.7h0M226.9 402.8h0M224.4 402.5h0M221.6 402.1h0M219.3 402.0h0M216.7 401.7h0M214.2 401.6h0M211.7 401.7h0M210.2 404.8h0M212.7 404.7h0M215.5 405.0h0M217.8 405.2h0M220.5 405.2h0M223.0 405.6h0M225.6 405.6h0M228.2 406.1h0M230.8 406.1h0M233.3 406.3h0M235.9 406.0h0M238.5 406.2h0M240.8 405.8h0M243.4 405.6h0M245.7 405.6h0M248.4 405.1h0M250.9 404.9h0M253.7 404.6h0M256.0 404.7h0M234.5 408.7h0M237.1 408.3h0M239.7 408.4h0M241.9 407.9h0M244.7 407.8h0M247.1 407.5h0M249.7 407.3h0M252.4 407.4h0M231.8 408.7h0M229.5 408.3h0M227.0 408.5h0M224.2 408.0h0M221.9 407.9h0M219.1 407.8h0M216.7 407.4h0M214.0 407.1h0M213.0 410.0h0M215.5 409.9h0M217.9 410.5h0M220.6 410.4h0M223.0 410.8h0M225.5 411.0h0M227.9 411.1h0M230.7 411.2h0M233.0 411.8h0M235.9 411.6h0M238.4 411.3h0M241.0 411.1h0M243.2 410.8h0M245.8 410.6h0M248.4 410.3h0M251.2 410.1h0M253.5 409.9h0M234.4 413.8h0M236.9 413.5h0M239.8 413.1h0M242.0 412.8h0M244.7 412.3h0M231.8 413.6h0M229.3 413.4h0M226.7 413.0h0M224.1 412.8h0M221.9 412.5h0M218.0 414.8h0M220.5 415.2h0M223.0 415.3h0M225.4 415.5h0M228.1 415.9h0M230.7 416.0h0M233.1 416.7h0M235.6 416.3h0M238.3 415.9h0M241.1 415.6h0M243.5 415.2h0M245.8 415.3h0M248.5 414.6h0M234.3 419.1h0M237.2 418.7h0M239.4 418.0h0M231.9 419.3h0M229.4 418.8h0M227.0 418.0h0M223.0 420.5h0M225.6 421.0h0M227.9 421.4h0M230.4 421.8h0M233.2 422.1h0M236.0 421.7h0M238.3 421.4h0M241.0 420.9h0M243.3 420.4h0M234.4 424.2h0M237.0 423.3h0M239.7 422.8h0M231.9 424.1h0M229.2 423.3h0M226.7 422.6h0M228.0 426.3h0M230.8 427.0h0M233.1 427.5h0M235.9 426.6h0M238.1 426.2h0M234.5 429.8h0M237.0 428.6h0M232.0 429.6h0M229.3 428.6h0M228.1 430.8h0M230.6 431.8h0M233.2 432.7h0M235.9 432.1h0M238.3 431.0h0M234.5 434.7h0M236.9 433.3h0M232.1 434.7h0M229.4 433.2h0M230.9 436.7h0M233.2 437.9h0M235.7 436.5h0M234.5 439.6h0M231.9 439.8h0M230.8 441.7h0M233.3 442.9h0M235.7 442.0h0M234.5 444.9h0M231.8 444.9h0M230.6 446.8h0M233.0 448.7h0M235.6 446.8h0M233.0 344.5h0M233.2 453.0h0M233.4 463.1h0" stroke="#111" stroke-width="3.3" stroke-linecap="round" fill="none"/>
<path d="M307.2 291.1h0M309.9 292.6h0M312.5 290.8h0M311.3 294.8h0M308.7 294.8h0M305.1 296.3h0M307.5 297.1h0M309.8 298.3h0M312.7 297.2h0M315.3 296.5h0M311.3 300.5h0M313.7 298.9h0M308.8 300.2h0M306.1 299.1h0M304.8 301.7h0M307.3 302.7h0M309.9 303.3h0M312.4 302.5h0M315.0 301.7h0M311.2 305.8h0M313.7 305.1h0M316.3 304.3h0M308.8 305.8h0M306.0 305.3h0M303.4 304.4h0M307.6 307.6h0M309.9 308.6h0M312.6 307.4h0M311.3 311.0h0M313.8 309.9h0M308.8 311.0h0M306.4 310.1h0M302.2 312.8h0M304.7 313.1h0M307.5 313.5h0M310.1 314.0h0M312.6 313.6h0M315.0 313.0h0M317.5 312.5h0M311.1 316.4h0M313.8 315.7h0M316.3 314.8h0M308.6 316.3h0M306.0 315.8h0M303.5 314.9h0M302.5 317.9h0M304.8 318.4h0M307.5 319.1h0M309.9 319.5h0M312.6 319.1h0M315.0 318.7h0M317.6 318.2h0M311.4 322.1h0M313.6 321.5h0M316.2 321.2h0M318.8 321.0h0M321.3 320.6h0M308.8 321.9h0M306.3 321.7h0M303.7 321.3h0M301.0 321.1h0M298.5 320.5h0M299.6 322.9h0M302.4 323.0h0M304.8 323.4h0M307.6 323.9h0M310.2 324.6h0M312.4 324.1h0M315.1 323.7h0M317.8 323.1h0M320.0 323.0h0M311.4 327.3h0M313.9 326.7h0M316.2 326.4h0M318.9 326.0h0M308.9 327.0h0M306.3 326.6h0M303.7 326.5h0M301.0 326.0h0M302.2 328.3h0M304.8 328.9h0M307.3 329.4h0M309.8 330.0h0M312.6 329.3h0M315.0 329.0h0M317.6 328.7h0M311.1 332.5h0M313.8 332.1h0M316.4 331.5h0M308.6 332.6h0M306.2 331.9h0M303.7 331.5h0M297.1 333.3h0M299.7 333.7h0M302.4 334.1h0M304.7 334.4h0M307.4 334.7h0M309.9 334.9h0M312.3 335.0h0M315.2 334.3h0M317.7 334.3h0M320.2 333.6h0M322.7 333.4h0M311.5 337.5h0M313.9 337.3h0M316.4 336.7h0M318.8 336.3h0M321.3 336.3h0M324.2 335.8h0M308.6 337.5h0M306.3 337.3h0M303.5 336.9h0M301.2 336.6h0M298.4 336.0h0M296.1 335.8h0M297.4 338.8h0M299.6 339.3h0M302.4 339.7h0M305.0 340.0h0M307.6 340.1h0M310.0 340.3h0M312.5 340.2h0M314.9 339.9h0M317.5 339.5h0M320.4 339.1h0M322.5 338.9h0M311.4 342.9h0M314.0 342.4h0M316.3 342.3h0M318.9 341.9h0M321.4 341.6h0M324.1 341.5h0M308.9 342.6h0M306.1 342.4h0M303.7 342.1h0M300.9 341.7h0M298.4 341.6h0M296.2 341.6h0M297.3 344.5h0M299.6 344.7h0M302.4 344.9h0M304.9 345.6h0M307.4 345.8h0M309.9 346.0h0M312.7 345.5h0M315.0 345.4h0M317.6 344.8h0M320.3 344.6h0M322.8 344.3h0M311.1 348.0h0M314.0 347.7h0M316.2 347.4h0M318.8 346.6h0M308.7 348.0h0M306.2 347.7h0M303.5 347.3h0M300.9 346.8h0M299.6 349.6h0M302.5 350.0h0M305.0 350.4h0M307.3 350.9h0M310.1 350.9h0M312.7 350.6h0M315.0 350.5h0M317.7 350.1h0M320.0 349.7h0M311.1 353.5h0M313.7 353.0h0M316.5 352.7h0M319.1 352.4h0M321.6 352.0h0M308.9 353.6h0M306.0 353.2h0M303.6 352.8h0M301.2 352.5h0M298.4 351.9h0M299.6 355.1h0M302.2 355.4h0M305.0 355.6h0M307.6 356.2h0M309.9 356.4h0M312.5 356.3h0M315.1 355.6h0M317.4 355.2h0M320.3 354.9h0M311.2 358.6h0M314.0 358.0h0M308.8 358.9h0M306.4 357.7h0M302.5 360.2h0M304.7 360.4h0M307.6 361.2h0M310.0 361.7h0M312.4 361.3h0M315.1 360.7h0M317.7 359.8h0M311.3 363.8h0M313.7 362.9h0M308.7 364.1h0M306.1 362.9h0M302.1 365.1h0M305.1 365.5h0M307.3 366.4h0M309.9 366.8h0M312.6 366.2h0M315.1 365.7h0M317.9 365.3h0M311.4 369.6h0M313.9 368.9h0M316.3 368.2h0M308.9 369.7h0M306.4 369.0h0M303.5 368.4h0M304.8 371.1h0M307.4 371.5h0M309.9 372.3h0M312.8 371.7h0M315.0 371.0h0M311.1 374.5h0M313.8 373.7h0M316.4 372.9h0M308.6 374.2h0M306.1 373.6h0M303.7 373.0h0M307.5 376.5h0M309.9 377.9h0M312.8 376.6h0M311.1 379.8h0M314.0 378.5h0M308.6 379.6h0M306.0 378.5h0M304.8 381.1h0M307.6 382.0h0M309.9 382.9h0M312.8 382.0h0M314.9 381.2h0M311.1 384.5h0M308.9 384.6h0M307.6 386.6h0M310.0 388.2h0M312.5 386.3h0M311.2 390.1h0M308.8 390.0h0M307.5 392.4h0M309.8 393.8h0M312.6 392.1h0M311.4 395.0h0M308.9 395.1h0M310.1 398.9h0M309.9 289.8h0M310.1 403.0h0M309.9 406.3h0M310.1 409.0h0M307.4 415.2h0M310.0 415.2h0M312.6 415.2h0M310.2 454.0h0" stroke="#111" stroke-width="3.3" stroke-linecap="round" fill="none"/>
<g stroke="#e23a4c" stroke-width="1.5" fill="none"><line x1="81" x2="81" y1="374.6" y2="393.3"/><line x1="81" x2="81" y1="423.5" y2="481"/><line x1="71.5" x2="90.5" y1="374.6" y2="374.6"/><line x1="71.5" x2="90.5" y1="481" y2="481"/><rect x="71.2" y="393.3" width="19.7" height="30.2"/><line x1="71.2" x2="90.8" y1="408.5" y2="408.5"/></g>
<g stroke="#e23a4c" stroke-width="1.5" fill="none"><line x1="157.1" x2="157.1" y1="366.8" y2="384.7"/><line x1="157.1" x2="157.1" y1="410.6" y2="462.9"/><line x1="147.8" x2="166.4" y1="366.8" y2="366.8"/><line x1="147.8" x2="166.4" y1="462.9" y2="462.9"/><rect x="147.3" y="384.7" width="19.6" height="25.9"/><line x1="147.3" x2="166.9" y1="397.3" y2="397.3"/></g>
<g stroke="#e23a4c" stroke-width="1.5" fill="none"><line x1="233.2" x2="233.2" y1="358.7" y2="377.3"/><line x1="233.2" x2="233.2" y1="405" y2="463.1"/><line x1="223.8" x2="242.6" y1="358.7" y2="358.7"/><line x1="223.8" x2="242.6" y1="463.1" y2="463.1"/><rect x="223.6" y="377.3" width="19.2" height="27.7"/><line x1="223.6" x2="242.8" y1="391" y2="391"/></g>
<g stroke="#e23a4c" stroke-width="1.5" fill="none"><line x1="310" x2="310" y1="301.3" y2="322.3"/><line x1="310" x2="310" y1="358" y2="454"/><line x1="300.5" x2="319.5" y1="301.3" y2="301.3"/><line x1="300.5" x2="319.5" y1="454" y2="454"/><rect x="300" y="322.3" width="20" height="35.7"/><line x1="300" x2="320" y1="341.6" y2="341.6"/></g>
<path d="M425.5 343.6h0M427.0 344.1h0M428.9 343.5h0M428.0 345.6h0M429.8 345.1h0M431.4 344.6h0M426.1 345.5h0M424.4 345.2h0M422.9 344.6h0M423.6 346.5h0M425.5 346.9h0M427.0 347.5h0M428.7 347.1h0M430.5 346.5h0M427.9 349.3h0M429.6 348.8h0M431.2 348.3h0M433.0 347.9h0M426.1 349.2h0M424.5 348.9h0M423.0 348.3h0M421.1 347.8h0M416.8 350.3h0M418.6 350.7h0M420.4 351.1h0M422.0 349.7h0M423.8 350.3h0M425.3 350.8h0M427.2 351.1h0M428.8 350.7h0M430.6 350.2h0M432.2 349.8h0M433.9 351.2h0M435.7 350.6h0M437.4 350.2h0M428.0 352.9h0M429.6 352.2h0M431.3 351.9h0M432.9 351.5h0M434.7 352.8h0M436.4 352.2h0M426.3 352.7h0M424.5 352.4h0M422.9 351.9h0M421.3 351.3h0M419.4 352.8h0M417.8 352.2h0M415.1 353.5h0M417.0 354.0h0M418.7 354.4h0M420.3 354.9h0M422.0 353.5h0M423.7 354.0h0M425.5 354.5h0M427.0 354.9h0M428.8 354.6h0M430.5 354.0h0M432.3 353.7h0M434.0 354.9h0M435.5 354.5h0M437.2 353.9h0M439.0 353.6h0M428.0 356.4h0M429.7 355.9h0M431.4 355.5h0M433.1 355.0h0M434.7 356.3h0M426.2 356.5h0M424.5 355.9h0M422.8 355.3h0M421.3 354.8h0M419.5 356.5h0M413.4 358.6h0M415.1 357.3h0M417.0 357.8h0M418.5 358.2h0M420.3 358.7h0M422.0 357.2h0M423.8 357.6h0M425.5 358.3h0M427.1 358.7h0M428.9 358.1h0M430.5 357.8h0M432.2 357.3h0M433.9 358.7h0M435.6 358.2h0M437.3 357.8h0M439.0 357.2h0M440.7 358.6h0M428.0 360.5h0M429.6 359.9h0M431.5 359.6h0M433.1 359.1h0M434.8 360.4h0M426.2 360.6h0M424.5 360.0h0M422.9 359.6h0M421.2 359.0h0M419.4 360.6h0M420.2 362.1h0M422.0 360.9h0M423.7 361.3h0M425.3 361.7h0M427.2 362.3h0M428.8 361.7h0M430.6 361.4h0M432.1 360.9h0M433.9 362.2h0M427.9 363.8h0M429.6 363.5h0M431.2 362.9h0M433.1 362.5h0M434.7 363.9h0M436.5 363.4h0M426.3 364.0h0M424.5 363.5h0M422.9 363.1h0M421.1 362.5h0M419.4 363.9h0M417.8 363.4h0M410.1 365.4h0M411.8 366.0h0M413.4 366.4h0M415.3 364.9h0M416.9 365.3h0M418.5 365.9h0M420.3 366.3h0M422.0 365.0h0M423.8 365.3h0M425.4 365.8h0M427.1 366.4h0M428.8 365.8h0M430.6 365.4h0M432.2 364.9h0M434.0 366.4h0M435.7 365.8h0M437.2 365.4h0M439.0 365.0h0M440.8 366.2h0M442.3 365.7h0M444.2 365.3h0M427.8 367.8h0M429.7 367.3h0M431.2 366.9h0M433.0 366.4h0M434.9 367.9h0M436.5 367.2h0M438.1 366.9h0M439.7 366.5h0M441.5 367.7h0M443.2 367.3h0M445.0 366.9h0M426.3 367.8h0M424.4 367.3h0M422.9 366.9h0M421.2 366.3h0M419.4 367.7h0M417.8 367.3h0M416.0 366.9h0M414.4 366.4h0M412.7 367.7h0M411.1 367.3h0M409.1 366.8h0M408.4 368.4h0M410.2 368.9h0M411.9 369.5h0M413.5 369.9h0M415.3 368.5h0M417.0 368.8h0M418.6 369.4h0M420.2 370.0h0M421.9 368.5h0M423.6 369.0h0M425.4 369.5h0M427.1 369.9h0M428.8 369.4h0M430.4 369.0h0M432.1 368.6h0M433.8 369.8h0M435.5 369.5h0M437.4 368.9h0M439.0 368.4h0M440.8 369.9h0M442.3 369.3h0M444.1 368.8h0M445.9 368.4h0M428.0 371.3h0M429.7 370.8h0M431.4 370.3h0M433.1 370.1h0M434.7 371.2h0M436.4 370.9h0M438.1 370.4h0M439.8 369.9h0M441.6 371.3h0M426.3 371.2h0M424.6 370.8h0M423.0 370.5h0M421.3 370.0h0M419.4 371.3h0M417.8 370.9h0M416.2 370.3h0M414.3 370.0h0M412.7 371.3h0M405.1 373.0h0M406.6 371.6h0M408.3 372.0h0M410.2 372.4h0M411.9 373.0h0M413.4 373.3h0M415.2 371.9h0M417.0 372.4h0M418.7 372.9h0M420.2 373.4h0M421.9 372.0h0M423.8 372.5h0M425.4 372.8h0M427.1 373.3h0M428.8 372.8h0M430.5 372.4h0M432.2 372.0h0M433.8 373.3h0M435.7 372.9h0M437.4 372.6h0M439.0 371.9h0M440.6 373.5h0M442.3 372.9h0M444.1 372.4h0M445.8 371.9h0M447.5 371.5h0M449.2 372.9h0M427.9 375.0h0M429.7 374.6h0M431.2 374.1h0M433.0 373.6h0M434.8 375.0h0M436.4 374.5h0M438.1 373.9h0M426.1 374.9h0M424.6 374.4h0M422.9 373.9h0M421.2 373.5h0M419.5 375.0h0M417.8 374.4h0M416.0 374.0h0M418.6 376.9h0M420.3 377.4h0M422.0 376.0h0M423.6 376.5h0M425.4 376.8h0M427.0 377.2h0M428.9 376.9h0M430.4 376.3h0M432.1 375.8h0M433.8 377.3h0M435.7 377.0h0M428.0 378.9h0M429.7 378.4h0M431.3 377.9h0M433.1 377.5h0M434.7 378.9h0M436.4 378.3h0M438.3 378.0h0M426.3 378.8h0M424.6 378.5h0M422.9 378.0h0M421.2 377.5h0M419.5 378.8h0M417.8 378.4h0M416.1 377.9h0M416.8 380.4h0M418.7 380.7h0M420.4 381.1h0M421.9 379.8h0M423.6 380.3h0M425.5 380.8h0M427.2 381.2h0M428.9 380.8h0M430.5 380.4h0M432.3 379.8h0M433.8 381.2h0M435.7 380.7h0M437.3 380.3h0M427.8 382.4h0M429.7 382.1h0M431.4 381.6h0M433.0 381.1h0M434.7 382.6h0M426.3 382.5h0M424.5 382.0h0M422.9 381.6h0M421.2 381.2h0M419.4 382.6h0M411.7 384.1h0M413.5 384.4h0M415.3 383.1h0M417.0 383.5h0M418.6 384.1h0M420.3 384.6h0M421.9 383.1h0M423.6 383.5h0M425.3 383.9h0M427.2 384.4h0M428.9 383.9h0M430.5 383.4h0M432.2 383.1h0M433.9 384.4h0M435.7 384.1h0M437.3 383.4h0M439.0 383.0h0M440.8 384.4h0M442.4 384.0h0M428.0 386.3h0M429.6 386.0h0M431.2 385.5h0M433.1 385.0h0M434.7 386.4h0M426.3 386.4h0M424.6 385.8h0M422.8 385.3h0M421.3 385.1h0M419.4 386.4h0M417.0 387.4h0M418.5 387.9h0M420.2 388.3h0M422.0 387.0h0M423.7 387.4h0M425.4 387.8h0M427.2 388.3h0M428.8 387.7h0M430.4 387.4h0M432.3 386.9h0M433.9 388.2h0M435.6 387.9h0M437.2 387.4h0M427.9 389.6h0M429.8 389.3h0M431.3 388.7h0M433.2 388.2h0M434.7 389.7h0M436.4 389.2h0M426.2 389.6h0M424.7 389.2h0M422.8 388.8h0M421.1 388.4h0M419.5 389.7h0M417.7 389.1h0M422.0 390.7h0M423.6 391.1h0M425.5 391.6h0M427.0 392.1h0M428.7 391.7h0M430.4 391.2h0M432.2 390.6h0M427.8 393.5h0M429.7 393.1h0M431.3 392.6h0M426.2 393.4h0M424.6 393.1h0M422.9 392.6h0M422.1 394.6h0M423.7 395.1h0M425.4 395.5h0M427.2 396.0h0M428.8 395.6h0M430.6 395.0h0M432.2 394.5h0M428.0 397.6h0M429.6 397.1h0M431.3 396.7h0M426.3 397.6h0M424.5 397.1h0M422.9 396.6h0M422.1 398.2h0M423.8 398.6h0M425.4 399.2h0M427.1 399.5h0M428.7 399.1h0M430.6 398.6h0M432.1 398.1h0M428.0 401.3h0M429.7 400.8h0M431.4 400.4h0M426.1 401.4h0M424.5 400.8h0M422.7 400.4h0M423.8 401.8h0M425.3 402.4h0M427.1 402.8h0M428.8 402.3h0M430.6 401.9h0M427.8 404.8h0M426.1 404.8h0M427.1 323.9h0M426.8 329.7h0M427.2 335.0h0M427.2 340.0h0M427.2 408.5h0M423.7 413.0h0M425.4 413.0h0M427.1 413.0h0M428.8 413.0h0M430.5 413.0h0M427.0 416.5h0M425.4 420.0h0M427.1 420.0h0M428.8 420.0h0M427.1 425.0h0M427.2 430.0h0M426.9 451.8h0" stroke="#262626" stroke-width="2.3" stroke-linecap="round" fill="none"/>
<path d="M500.8 334.1h0M500.6 335.8h0M499.0 337.1h0M500.7 337.5h0M502.3 337.2h0M501.6 339.0h0M503.2 338.6h0M499.9 339.2h0M498.2 338.7h0M497.2 340.5h0M498.9 341.1h0M500.8 341.5h0M502.3 341.0h0M504.0 340.6h0M501.5 342.6h0M503.3 342.3h0M499.8 342.6h0M498.1 342.1h0M499.1 344.9h0M500.7 345.4h0M502.3 344.8h0M501.5 346.4h0M503.3 346.1h0M500.0 346.6h0M498.1 346.1h0M493.8 348.8h0M495.5 347.6h0M497.3 347.9h0M499.1 348.5h0M500.7 348.8h0M502.5 348.5h0M504.0 348.0h0M505.8 347.6h0M507.5 349.0h0M501.5 350.5h0M503.3 350.0h0M504.9 349.7h0M499.9 350.6h0M498.2 350.1h0M496.3 349.7h0M493.9 352.4h0M495.5 351.0h0M497.3 351.4h0M498.9 352.0h0M500.7 352.3h0M502.3 352.0h0M504.0 351.4h0M505.9 351.1h0M507.5 352.4h0M501.6 354.2h0M503.1 353.8h0M505.1 353.3h0M506.7 353.0h0M508.4 354.4h0M510.0 353.8h0M499.7 354.4h0M498.1 354.0h0M496.5 353.3h0M494.8 352.9h0M493.1 354.2h0M491.4 354.0h0M493.9 356.4h0M495.6 355.0h0M497.3 355.5h0M498.9 355.8h0M500.7 356.3h0M502.4 355.8h0M504.2 355.3h0M505.9 355.0h0M507.5 356.2h0M501.5 357.8h0M503.3 357.2h0M504.9 356.8h0M506.7 356.4h0M508.3 357.7h0M510.0 357.3h0M499.8 357.7h0M498.3 357.3h0M496.3 356.7h0M494.7 356.4h0M493.1 357.7h0M491.3 357.2h0M478.7 359.7h0M480.4 358.3h0M482.1 358.6h0M483.7 359.2h0M485.4 359.7h0M487.0 360.2h0M488.8 358.7h0M490.4 359.1h0M492.2 359.6h0M493.8 360.1h0M495.7 358.7h0M497.4 359.2h0M499.1 359.7h0M500.8 360.0h0M502.3 359.6h0M504.0 359.1h0M505.9 358.8h0M507.5 360.1h0M509.3 359.7h0M511.0 359.2h0M512.5 358.8h0M514.3 358.3h0M516.0 359.6h0M517.8 359.1h0M519.4 358.7h0M521.1 360.2h0M522.8 359.7h0M501.5 361.1h0M503.3 360.6h0M504.9 360.3h0M506.8 359.7h0M508.3 361.2h0M510.1 360.8h0M511.8 360.2h0M513.4 359.7h0M515.2 361.1h0M516.8 360.8h0M518.6 360.3h0M520.3 359.8h0M499.9 361.2h0M498.0 360.6h0M496.3 360.2h0M494.7 359.7h0M493.0 361.3h0M491.4 360.7h0M489.7 360.2h0M487.9 359.8h0M486.2 361.2h0M484.5 360.8h0M482.8 360.4h0M481.1 359.9h0M471.9 363.0h0M473.5 361.5h0M475.1 361.9h0M477.0 362.4h0M478.6 362.9h0M480.3 361.4h0M481.9 361.9h0M483.8 362.4h0M485.4 362.9h0M487.0 363.3h0M488.7 362.1h0M490.4 362.5h0M492.2 363.0h0M493.8 363.4h0M495.5 361.9h0M497.3 362.3h0M498.9 363.0h0M500.6 363.3h0M502.5 362.8h0M504.0 362.4h0M505.8 361.9h0M507.5 363.4h0M509.3 362.8h0M510.9 362.5h0M512.5 361.9h0M514.3 361.4h0M516.0 362.9h0M517.6 362.3h0M519.4 361.9h0M521.0 363.3h0M522.7 362.8h0M524.5 362.4h0M526.3 362.0h0M527.8 361.4h0M529.7 362.9h0M501.5 365.5h0M503.3 364.8h0M504.9 364.5h0M506.6 363.9h0M508.3 365.5h0M510.0 365.0h0M511.6 364.4h0M513.4 363.9h0M515.2 365.3h0M516.8 365.0h0M518.5 364.4h0M520.1 364.0h0M522.0 365.2h0M523.6 365.0h0M525.4 364.4h0M527.0 364.0h0M499.9 365.3h0M498.2 365.0h0M496.5 364.5h0M494.7 364.1h0M493.0 365.3h0M491.4 365.0h0M489.5 364.4h0M487.8 364.0h0M486.2 365.3h0M484.6 364.9h0M483.0 364.4h0M481.2 363.9h0M479.6 365.3h0M477.7 364.9h0M476.2 364.4h0M474.5 364.0h0M465.1 366.6h0M466.6 367.2h0M468.4 365.6h0M470.1 366.2h0M471.7 366.6h0M473.4 365.3h0M475.1 365.7h0M476.8 366.1h0M478.6 366.6h0M480.2 365.1h0M481.9 365.8h0M483.6 366.0h0M485.4 366.6h0M487.2 366.9h0M488.7 365.6h0M490.5 366.1h0M492.2 366.7h0M493.9 367.1h0M495.7 365.6h0M497.4 366.1h0M498.9 366.7h0M500.6 366.9h0M502.3 366.5h0M504.2 366.2h0M505.8 365.7h0M507.6 367.1h0M509.2 366.6h0M510.8 366.1h0M512.6 365.7h0M514.4 365.3h0M516.1 366.5h0M517.6 366.2h0M519.4 365.6h0M521.1 367.0h0M522.7 366.6h0M524.5 366.2h0M526.1 365.7h0M527.9 365.2h0M529.6 366.7h0M531.2 366.1h0M533.0 365.7h0M534.7 367.0h0M536.5 366.7h0M501.5 369.1h0M503.4 368.8h0M504.9 368.2h0M506.6 367.8h0M508.4 369.0h0M510.0 368.6h0M511.7 368.1h0M513.4 367.7h0M515.1 369.0h0M516.9 368.8h0M518.6 368.2h0M520.3 367.7h0M521.9 369.1h0M499.7 369.2h0M498.1 368.6h0M496.6 368.3h0M494.8 367.8h0M493.1 369.2h0M491.5 368.6h0M489.7 368.1h0M487.9 367.8h0M486.3 369.2h0M484.6 368.7h0M482.8 368.1h0M481.2 367.8h0M479.4 369.0h0M468.3 369.6h0M470.0 370.2h0M471.9 370.5h0M473.4 369.3h0M475.3 369.6h0M476.9 370.1h0M478.6 370.6h0M480.3 369.1h0M481.9 369.6h0M483.6 370.0h0M485.4 370.6h0M487.0 371.1h0M488.9 369.6h0M490.5 370.0h0M492.3 370.6h0M493.8 371.0h0M495.6 369.6h0M497.4 370.1h0M499.1 370.7h0M500.6 371.1h0M502.3 370.6h0M504.2 370.2h0M505.7 369.6h0M507.5 371.1h0M509.1 370.5h0M510.9 370.0h0M512.6 369.6h0M514.2 369.2h0M516.0 370.6h0M517.6 370.2h0M519.3 369.6h0M521.1 371.1h0M522.8 370.7h0M524.4 370.1h0M526.2 369.6h0M527.8 369.1h0M529.7 370.7h0M531.4 370.2h0M533.1 369.6h0M501.6 372.2h0M503.1 371.8h0M504.9 371.5h0M506.7 370.9h0M508.3 372.2h0M510.1 371.8h0M511.7 371.4h0M513.5 371.0h0M515.1 372.2h0M516.8 371.8h0M518.5 371.4h0M520.2 370.8h0M521.9 372.3h0M523.7 371.8h0M525.3 371.5h0M500.0 372.3h0M498.1 371.8h0M496.5 371.3h0M494.6 371.0h0M493.1 372.2h0M491.3 371.8h0M489.6 371.2h0M488.0 371.0h0M486.2 372.2h0M484.5 371.7h0M483.0 371.2h0M481.1 371.0h0M479.4 372.2h0M477.6 371.7h0M476.1 371.4h0M470.1 373.8h0M471.7 374.3h0M473.6 372.8h0M475.1 373.5h0M477.0 374.0h0M478.6 374.4h0M480.3 372.9h0M482.0 373.4h0M483.8 373.8h0M485.3 374.4h0M487.0 374.9h0M488.8 373.3h0M490.4 373.9h0M492.3 374.2h0M494.0 374.7h0M495.5 373.5h0M497.3 373.8h0M499.0 374.4h0M500.8 374.8h0M502.3 374.4h0M504.1 374.0h0M505.9 373.4h0M507.6 374.9h0M509.1 374.3h0M510.9 373.8h0M512.6 373.3h0M514.2 373.0h0M516.0 374.4h0M517.8 373.9h0M519.3 373.5h0M521.2 374.9h0M522.9 374.4h0M524.6 373.8h0M526.2 373.4h0M528.0 372.8h0M529.6 374.3h0M531.4 373.8h0M501.5 376.6h0M503.3 376.1h0M505.0 375.4h0M506.7 375.1h0M508.3 376.4h0M510.1 376.1h0M511.8 375.5h0M513.4 375.0h0M515.1 376.4h0M516.7 376.1h0M518.5 375.4h0M520.1 375.1h0M521.9 376.5h0M499.8 376.5h0M498.3 376.0h0M496.5 375.6h0M494.7 375.2h0M493.1 376.4h0M491.4 376.0h0M489.6 375.6h0M488.0 375.1h0M486.2 376.5h0M484.6 376.0h0M482.8 375.5h0M481.1 375.2h0M479.5 376.4h0M487.1 378.4h0M488.8 376.9h0M490.5 377.5h0M492.3 377.9h0M493.8 378.4h0M495.7 376.9h0M497.4 377.6h0M499.0 377.9h0M500.8 378.5h0M502.3 377.9h0M504.1 377.5h0M505.7 377.0h0M507.5 378.4h0M509.1 378.0h0M511.0 377.5h0M512.7 376.9h0M514.4 376.5h0M501.7 379.8h0M503.1 379.4h0M505.0 379.0h0M506.8 378.5h0M508.5 379.9h0M510.0 379.4h0M511.8 378.9h0M513.5 378.4h0M515.1 379.8h0M516.9 379.4h0M518.5 378.8h0M520.2 378.5h0M522.0 379.8h0M499.8 379.9h0M498.1 379.4h0M496.5 378.9h0M494.8 378.5h0M493.1 379.9h0M491.4 379.3h0M489.7 379.0h0M487.8 378.6h0M486.2 379.8h0M484.4 379.5h0M482.9 378.8h0M481.1 378.5h0M479.6 379.8h0M485.3 381.4h0M487.1 381.8h0M488.7 380.4h0M490.4 380.8h0M492.2 381.4h0M493.8 381.8h0M495.6 380.6h0M497.3 381.0h0M499.0 381.3h0M500.7 381.8h0M502.3 381.3h0M504.1 381.0h0M505.8 380.4h0M507.5 381.8h0M509.2 381.4h0M510.8 381.0h0M512.6 380.3h0M514.4 380.0h0M516.0 381.4h0M501.5 383.6h0M503.3 383.2h0M505.1 382.6h0M506.6 382.3h0M508.4 383.6h0M510.1 383.1h0M511.9 382.7h0M513.4 382.1h0M515.1 383.7h0M499.9 383.5h0M498.1 383.1h0M496.4 382.6h0M494.8 382.2h0M493.1 383.7h0M491.4 383.1h0M489.6 382.7h0M488.0 382.3h0M486.2 383.6h0M475.2 384.5h0M476.9 385.1h0M478.5 385.6h0M480.2 384.0h0M481.9 384.7h0M483.6 385.0h0M485.3 385.5h0M487.2 386.0h0M488.9 384.7h0M490.5 385.1h0M492.1 385.6h0M493.9 385.9h0M495.7 384.7h0M497.3 385.0h0M499.1 385.6h0M500.7 386.1h0M502.3 385.4h0M504.0 384.9h0M505.8 384.6h0M507.4 385.9h0M509.1 385.5h0M510.9 385.2h0M512.6 384.7h0M514.3 384.1h0M515.9 385.4h0M517.8 385.2h0M519.4 384.5h0M521.0 385.9h0M522.8 385.6h0M524.4 385.1h0M526.2 384.5h0M501.5 387.5h0M503.3 386.9h0M504.9 386.6h0M506.7 386.1h0M508.4 387.3h0M510.0 386.9h0M511.8 386.3h0M513.5 386.1h0M515.2 387.3h0M516.9 386.9h0M518.6 386.5h0M499.9 387.4h0M498.3 387.0h0M496.6 386.5h0M494.7 386.0h0M493.0 387.5h0M491.4 387.0h0M489.7 386.6h0M488.0 386.0h0M486.3 387.3h0M484.6 386.8h0M482.9 386.5h0M477.0 388.3h0M478.5 388.8h0M480.3 387.4h0M482.0 387.8h0M483.8 388.2h0M485.5 388.6h0M487.0 389.1h0M488.9 387.8h0M490.6 388.2h0M492.3 388.7h0M493.8 389.2h0M495.7 387.7h0M497.3 388.2h0M499.0 388.8h0M500.8 389.3h0M502.4 388.7h0M504.2 388.3h0M505.8 387.9h0M507.5 389.3h0M509.2 388.6h0M511.0 388.2h0M512.6 387.7h0M514.4 387.3h0M516.1 388.6h0M517.7 388.2h0M519.3 387.9h0M521.0 389.2h0M522.7 388.8h0M524.6 388.1h0M501.6 391.1h0M503.4 390.6h0M504.9 390.3h0M506.6 389.7h0M508.4 391.1h0M510.0 390.8h0M511.7 390.3h0M499.8 391.3h0M498.1 390.8h0M496.5 390.4h0M494.8 389.8h0M493.1 391.3h0M491.3 390.6h0M489.7 390.3h0M483.7 392.1h0M485.5 392.6h0M487.0 393.0h0M488.8 391.6h0M490.4 392.0h0M492.2 392.5h0M493.8 392.9h0M495.6 391.6h0M497.3 392.0h0M499.1 392.5h0M500.8 393.1h0M502.3 392.5h0M504.2 392.0h0M505.8 391.5h0M507.4 392.9h0M509.1 392.4h0M510.9 392.1h0M512.7 391.6h0M514.3 391.2h0M516.0 392.5h0M517.8 392.1h0M501.7 394.6h0M503.4 394.1h0M504.8 393.7h0M506.6 393.2h0M508.3 394.7h0M510.1 394.2h0M500.0 394.7h0M498.2 394.2h0M496.3 393.6h0M494.7 393.3h0M493.0 394.6h0M491.2 394.1h0M493.8 396.9h0M495.5 395.7h0M497.2 396.2h0M498.9 396.6h0M500.7 397.0h0M502.5 396.5h0M504.1 396.0h0M505.9 395.7h0M507.4 397.1h0M501.6 398.5h0M503.4 398.0h0M505.0 397.5h0M506.6 397.0h0M499.9 398.3h0M498.2 397.8h0M496.4 397.4h0M494.7 397.0h0M495.6 399.2h0M497.3 399.6h0M498.9 400.0h0M500.7 400.5h0M502.5 400.0h0M504.2 399.5h0M505.7 399.1h0M501.5 402.3h0M503.3 401.8h0M505.0 401.5h0M506.7 400.8h0M499.7 402.2h0M498.1 401.7h0M496.5 401.4h0M494.7 400.9h0M495.6 402.6h0M497.4 403.1h0M499.0 403.5h0M500.6 403.9h0M502.5 403.6h0M504.0 403.1h0M505.7 402.6h0M501.6 406.0h0M503.2 405.6h0M504.9 405.1h0M499.8 406.1h0M498.0 405.5h0M496.4 405.0h0M492.2 407.7h0M493.9 408.2h0M495.6 406.9h0M497.3 407.2h0M498.9 407.8h0M500.8 408.3h0M502.3 407.8h0M504.1 407.2h0M505.8 406.8h0M507.6 408.2h0M509.3 407.8h0M501.5 409.6h0M503.3 409.1h0M505.1 408.5h0M499.9 409.6h0M498.1 409.0h0M496.3 408.6h0M497.3 410.9h0M498.9 411.4h0M500.7 411.6h0M502.3 411.3h0M504.2 410.9h0M501.5 413.3h0M503.3 412.8h0M504.8 412.4h0M506.7 412.1h0M508.3 413.5h0M499.9 413.5h0M498.2 413.0h0M496.5 412.6h0M494.8 411.9h0M493.1 413.4h0M495.6 413.9h0M497.2 414.4h0M499.0 414.8h0M500.7 415.3h0M502.4 414.8h0M504.2 414.5h0M505.9 413.9h0M501.5 416.9h0M503.2 416.5h0M505.0 416.0h0M499.9 416.9h0M498.1 416.5h0M496.4 416.0h0M497.2 418.0h0M499.0 418.4h0M500.7 418.9h0M502.3 418.3h0M504.1 417.8h0M501.7 420.8h0M503.2 420.2h0M499.8 420.8h0M498.2 420.3h0M499.1 422.3h0M500.8 422.8h0M502.4 422.2h0M501.5 424.1h0M500.0 424.2h0M499.0 426.1h0M500.8 426.6h0M502.3 426.3h0M500.7 323.3h0M500.6 328.4h0M500.8 430.0h0M500.6 433.0h0M500.4 437.0h0M500.6 440.0h0M500.6 454.1h0" stroke="#262626" stroke-width="2.3" stroke-linecap="round" fill="none"/>
<path d="M572.4 339.7h0M574.1 340.0h0M575.7 339.7h0M575.0 341.5h0M573.2 341.4h0M570.7 342.5h0M572.4 342.9h0M574.0 343.3h0M575.8 342.9h0M577.5 342.5h0M575.0 345.0h0M576.7 344.6h0M578.2 344.2h0M580.1 343.6h0M573.3 345.1h0M571.7 344.5h0M569.8 344.1h0M568.2 343.8h0M570.8 346.2h0M572.3 346.9h0M574.1 347.4h0M575.7 346.8h0M577.4 346.2h0M574.9 348.9h0M576.6 348.5h0M578.4 348.1h0M580.0 347.5h0M581.7 348.8h0M573.3 348.8h0M571.6 348.4h0M569.8 348.0h0M568.2 347.4h0M566.4 349.0h0M565.6 350.6h0M567.3 349.4h0M569.0 349.7h0M570.8 350.2h0M572.4 350.6h0M574.1 351.2h0M575.8 350.6h0M577.4 350.3h0M579.2 349.8h0M580.9 349.3h0M582.5 350.6h0M574.9 352.7h0M576.6 352.2h0M578.4 351.9h0M580.0 351.4h0M581.7 352.8h0M573.2 352.8h0M571.5 352.3h0M569.8 351.8h0M568.2 351.3h0M566.4 352.8h0M562.2 353.4h0M563.9 354.0h0M565.6 354.5h0M567.3 353.0h0M569.1 353.6h0M570.7 353.9h0M572.4 354.3h0M574.2 355.0h0M575.9 354.4h0M577.6 353.9h0M579.3 353.5h0M580.8 353.1h0M582.6 354.5h0M584.3 354.0h0M586.1 353.4h0M574.9 356.0h0M576.5 355.6h0M578.3 355.1h0M580.0 354.6h0M581.9 356.2h0M573.3 356.2h0M571.5 355.7h0M569.8 355.2h0M568.2 354.7h0M566.4 356.0h0M564.0 357.5h0M565.6 358.0h0M567.4 356.6h0M568.9 357.2h0M570.6 357.6h0M572.5 358.0h0M574.1 358.5h0M575.7 358.0h0M577.6 357.5h0M579.2 357.1h0M580.8 356.7h0M582.7 358.1h0M584.3 357.5h0M574.9 360.1h0M576.6 359.8h0M578.3 359.2h0M580.1 358.7h0M581.8 360.1h0M583.5 359.6h0M585.1 359.2h0M586.8 358.7h0M573.3 360.1h0M571.5 359.6h0M569.9 359.2h0M568.2 358.8h0M566.5 360.2h0M564.7 359.7h0M563.0 359.3h0M561.4 358.8h0M562.3 360.8h0M563.8 361.3h0M565.6 361.7h0M567.2 360.5h0M569.0 360.8h0M570.6 361.3h0M572.3 361.8h0M574.1 362.2h0M575.8 361.8h0M577.4 361.4h0M579.1 360.7h0M581.0 360.4h0M582.6 361.7h0M584.4 361.3h0M586.1 360.8h0M574.9 363.6h0M576.7 363.3h0M578.3 362.8h0M580.1 362.2h0M581.8 363.8h0M583.3 363.1h0M585.1 362.7h0M573.2 363.7h0M571.5 363.2h0M569.8 362.7h0M568.2 362.3h0M566.4 363.6h0M564.6 363.2h0M563.0 362.8h0M563.8 364.8h0M565.6 365.3h0M567.3 363.8h0M568.9 364.4h0M570.7 364.7h0M572.4 365.3h0M574.2 365.6h0M575.7 365.2h0M577.6 364.7h0M579.2 364.3h0M580.9 363.8h0M582.5 365.2h0M584.4 364.6h0M574.8 367.8h0M576.7 367.4h0M578.3 366.7h0M580.0 366.4h0M581.8 367.7h0M583.5 367.3h0M585.2 366.7h0M573.2 367.7h0M571.6 367.2h0M569.8 366.8h0M568.1 366.4h0M566.4 367.7h0M564.8 367.2h0M563.1 366.7h0M565.6 369.1h0M567.3 367.8h0M569.0 368.2h0M570.7 368.7h0M572.5 369.2h0M574.1 369.6h0M575.9 369.2h0M577.5 368.8h0M579.2 368.3h0M580.8 367.7h0M582.5 369.2h0M575.0 371.1h0M576.6 370.7h0M578.3 370.3h0M580.1 369.7h0M581.8 371.1h0M583.3 370.6h0M573.3 371.1h0M571.6 370.7h0M569.7 370.3h0M568.1 369.7h0M566.5 371.0h0M564.7 370.6h0M558.7 372.5h0M560.4 372.9h0M562.2 371.5h0M564.0 372.1h0M565.5 372.5h0M567.4 371.1h0M569.1 371.5h0M570.8 372.1h0M572.4 372.6h0M574.0 372.9h0M575.8 372.6h0M577.6 372.0h0M579.2 371.6h0M580.9 371.1h0M582.6 372.5h0M584.2 372.1h0M585.9 371.7h0M587.7 373.0h0M589.3 372.6h0M574.9 374.9h0M576.6 374.4h0M578.4 374.0h0M580.2 373.3h0M581.8 374.8h0M583.4 374.4h0M585.2 373.9h0M573.3 374.7h0M571.6 374.2h0M569.8 373.9h0M568.1 373.4h0M566.5 374.7h0M564.8 374.2h0M563.0 373.9h0M557.2 375.8h0M558.8 376.2h0M560.5 376.8h0M562.2 375.3h0M563.9 375.8h0M565.5 376.4h0M567.4 375.0h0M569.1 375.3h0M570.8 375.8h0M572.5 376.3h0M574.2 376.8h0M575.9 376.2h0M577.6 375.8h0M579.2 375.3h0M581.0 375.0h0M582.7 376.3h0M584.2 375.7h0M586.0 375.3h0M587.7 376.6h0M589.3 376.3h0M591.0 375.9h0M574.9 378.4h0M576.5 377.9h0M578.3 377.4h0M580.1 377.0h0M581.6 378.5h0M583.4 377.9h0M585.0 377.4h0M586.9 377.1h0M573.3 378.4h0M571.5 378.1h0M569.8 377.6h0M568.2 376.9h0M566.5 378.3h0M564.8 378.0h0M563.1 377.5h0M561.4 377.0h0M557.0 379.7h0M558.8 380.2h0M560.5 380.6h0M562.3 379.3h0M563.9 379.6h0M565.7 380.1h0M567.2 378.7h0M569.0 379.3h0M570.7 379.7h0M572.5 380.2h0M574.1 380.6h0M575.9 380.1h0M577.4 379.7h0M579.3 379.1h0M580.9 378.8h0M582.5 380.0h0M584.3 379.6h0M586.1 379.3h0M587.7 380.6h0M589.4 380.0h0M591.2 379.6h0M574.9 381.9h0M576.8 381.5h0M578.4 381.1h0M580.1 380.5h0M581.7 382.0h0M583.4 381.5h0M585.2 381.0h0M586.9 380.7h0M588.5 381.9h0M590.1 381.4h0M591.8 381.0h0M593.7 380.6h0M573.4 382.0h0M571.6 381.5h0M569.7 381.0h0M568.1 380.6h0M566.3 382.0h0M564.7 381.5h0M563.0 380.9h0M561.4 380.6h0M559.7 381.9h0M558.0 381.6h0M556.4 381.1h0M554.4 380.7h0M557.2 383.7h0M558.7 384.1h0M560.5 384.5h0M562.3 383.2h0M563.9 383.7h0M565.7 384.1h0M567.4 382.7h0M569.1 383.1h0M570.7 383.7h0M572.5 384.2h0M574.1 384.6h0M575.8 384.1h0M577.5 383.8h0M579.1 383.1h0M581.0 382.6h0M582.7 384.0h0M584.3 383.7h0M585.9 383.2h0M587.6 384.6h0M589.4 384.1h0M591.1 383.7h0M574.9 386.2h0M576.6 385.7h0M578.4 385.2h0M580.1 384.9h0M581.9 386.1h0M583.4 385.8h0M585.3 385.2h0M586.9 384.8h0M573.3 386.3h0M571.4 385.7h0M569.8 385.2h0M568.1 384.9h0M566.5 386.1h0M564.8 385.8h0M563.0 385.4h0M561.4 384.8h0M563.8 387.0h0M565.7 387.3h0M567.4 386.1h0M569.0 386.6h0M570.8 386.9h0M572.5 387.5h0M574.1 387.9h0M575.8 387.5h0M577.5 386.9h0M579.1 386.5h0M580.8 386.1h0M582.7 387.3h0M584.3 387.0h0M574.9 389.7h0M576.6 389.4h0M578.3 389.0h0M580.0 388.3h0M581.7 389.9h0M583.4 389.2h0M585.2 388.8h0M586.9 388.3h0M573.2 389.8h0M571.6 389.3h0M569.8 388.8h0M568.1 388.4h0M566.5 389.9h0M564.8 389.3h0M563.1 388.8h0M561.3 388.4h0M562.2 390.1h0M564.0 390.7h0M565.6 391.1h0M567.4 389.8h0M569.0 390.2h0M570.8 390.6h0M572.3 391.0h0M574.1 391.6h0M575.7 391.1h0M577.6 390.6h0M579.2 390.2h0M581.0 389.7h0M582.5 391.1h0M584.4 390.7h0M586.0 390.1h0M574.9 393.4h0M576.7 393.0h0M578.3 392.5h0M580.0 392.0h0M573.3 393.4h0M571.5 393.0h0M569.7 392.5h0M568.2 391.9h0M569.0 394.2h0M570.6 394.7h0M572.5 395.0h0M574.2 395.5h0M575.8 395.1h0M577.5 394.7h0M579.3 394.2h0M575.0 396.8h0M576.6 396.4h0M578.3 395.8h0M573.2 396.7h0M571.7 396.3h0M569.9 395.8h0M565.6 398.8h0M567.3 397.2h0M568.9 397.7h0M570.7 398.3h0M572.5 398.6h0M574.2 399.1h0M575.8 398.7h0M577.4 398.1h0M579.2 397.8h0M580.9 397.4h0M582.7 398.6h0M574.9 400.7h0M576.6 400.3h0M578.4 399.9h0M580.0 399.4h0M581.7 400.8h0M573.2 400.9h0M571.5 400.4h0M569.8 400.0h0M568.2 399.5h0M566.4 400.9h0M565.6 402.5h0M567.2 401.0h0M568.9 401.6h0M570.6 402.0h0M572.5 402.5h0M574.2 402.9h0M575.7 402.5h0M577.5 402.1h0M579.2 401.6h0M580.9 401.2h0M582.7 402.4h0M574.8 404.7h0M576.6 404.3h0M573.2 404.6h0M571.6 404.2h0M570.8 405.3h0M572.4 405.7h0M574.0 406.3h0M575.9 405.8h0M577.5 405.4h0M575.0 408.2h0M576.6 407.7h0M573.2 408.1h0M571.5 407.8h0M570.6 409.5h0M572.3 409.8h0M574.0 410.4h0M575.7 410.0h0M577.6 409.4h0M574.9 412.0h0M573.4 411.8h0M574.0 321.0h0M574.0 324.0h0M573.9 327.0h0M574.1 330.0h0M574.3 333.0h0M573.8 335.5h0M574.3 415.0h0M574.0 420.0h0M573.8 424.0h0M574.3 428.0h0M574.0 432.0h0M573.9 442.0h0" stroke="#262626" stroke-width="2.3" stroke-linecap="round" fill="none"/>
<path d="M643.9 339.7h0M645.7 340.2h0M647.4 340.7h0M649.2 340.3h0M650.8 339.9h0M648.2 342.4h0M650.0 342.1h0M646.5 342.6h0M644.9 342.0h0M644.1 343.7h0M645.7 344.2h0M647.3 344.7h0M649.1 344.3h0M650.7 343.8h0M648.2 346.0h0M649.9 345.6h0M651.6 345.1h0M646.6 345.9h0M644.8 345.6h0M643.1 345.2h0M642.3 347.3h0M644.1 347.6h0M645.7 348.2h0M647.3 348.7h0M649.2 348.2h0M650.8 347.6h0M652.6 347.1h0M648.3 349.8h0M650.0 349.3h0M651.8 348.9h0M646.6 349.8h0M644.9 349.3h0M643.2 348.8h0M642.3 350.8h0M644.1 351.4h0M645.8 351.7h0M647.4 352.3h0M649.1 351.7h0M650.9 351.3h0M652.5 350.9h0M648.2 353.8h0M649.9 353.6h0M646.6 353.8h0M644.8 353.5h0M638.9 355.1h0M640.5 353.6h0M642.2 354.2h0M643.9 354.7h0M645.8 355.1h0M647.3 355.6h0M649.1 355.0h0M650.7 354.6h0M652.6 354.0h0M654.3 353.6h0M655.8 355.0h0M648.3 357.4h0M650.0 357.0h0M651.6 356.3h0M653.3 356.0h0M646.5 357.4h0M644.7 357.0h0M643.1 356.6h0M641.5 356.1h0M640.5 357.7h0M642.3 358.2h0M643.9 358.6h0M645.8 359.2h0M647.5 359.5h0M649.0 359.0h0M650.9 358.7h0M652.5 358.2h0M654.2 357.7h0M648.3 361.1h0M650.0 360.7h0M651.6 360.2h0M653.3 359.7h0M655.1 361.1h0M656.7 360.7h0M646.5 361.3h0M644.8 360.6h0M643.2 360.2h0M641.4 359.8h0M639.7 361.1h0M637.9 360.8h0M637.2 362.1h0M639.0 362.7h0M640.5 361.2h0M642.3 361.8h0M644.0 362.2h0M645.6 362.7h0M647.5 363.2h0M649.0 362.7h0M650.9 362.2h0M652.5 361.6h0M654.1 361.3h0M655.8 362.7h0M657.6 362.2h0M648.2 364.8h0M649.9 364.3h0M651.8 363.9h0M653.3 363.4h0M655.0 364.8h0M656.7 364.3h0M658.5 363.8h0M660.2 363.4h0M662.0 364.9h0M646.5 364.8h0M644.8 364.3h0M643.2 363.9h0M641.4 363.3h0M639.7 364.8h0M638.0 364.3h0M636.4 364.0h0M634.7 363.4h0M633.0 364.8h0M638.9 366.3h0M640.5 364.8h0M642.2 365.2h0M644.0 365.7h0M645.8 366.2h0M647.4 366.7h0M649.2 366.3h0M650.8 365.9h0M652.4 365.4h0M654.2 364.9h0M655.9 366.2h0M648.3 368.4h0M650.0 367.8h0M651.6 367.4h0M653.4 367.0h0M654.9 368.4h0M656.7 367.8h0M658.4 367.4h0M660.2 367.0h0M661.8 368.3h0M663.5 367.8h0M665.2 367.5h0M646.6 368.4h0M644.9 367.9h0M643.1 367.3h0M641.4 366.9h0M639.8 368.4h0M638.1 367.9h0M636.3 367.6h0M634.7 366.9h0M632.8 368.5h0M631.2 368.0h0M629.5 367.5h0M630.3 369.4h0M632.2 370.1h0M633.8 370.4h0M635.4 369.0h0M637.1 369.6h0M638.8 370.0h0M640.6 368.5h0M642.3 369.1h0M643.9 369.4h0M645.7 370.0h0M647.4 370.3h0M649.2 369.8h0M650.7 369.4h0M652.5 369.0h0M654.2 368.6h0M656.0 369.9h0M657.5 369.6h0M659.2 369.0h0M660.9 370.4h0M662.8 369.9h0M664.4 369.6h0M648.3 372.2h0M649.9 371.8h0M651.6 371.2h0M653.3 370.8h0M655.0 372.2h0M656.8 371.8h0M646.5 372.3h0M644.8 371.8h0M643.3 371.4h0M641.6 370.9h0M639.8 372.3h0M638.1 371.7h0M630.4 373.5h0M632.1 373.9h0M633.8 374.5h0M635.6 373.2h0M637.2 373.4h0M639.0 374.0h0M640.6 372.6h0M642.2 373.1h0M644.0 373.6h0M645.7 373.9h0M647.4 374.5h0M649.2 374.0h0M650.8 373.5h0M652.6 373.1h0M654.2 372.6h0M655.8 374.1h0M657.7 373.5h0M659.2 373.0h0M661.1 374.3h0M662.8 374.0h0M664.4 373.5h0M648.4 375.5h0M649.9 375.2h0M651.7 374.7h0M653.4 374.3h0M654.9 375.5h0M656.7 375.2h0M658.4 374.7h0M646.6 375.5h0M644.9 375.2h0M643.2 374.6h0M641.4 374.2h0M639.9 375.7h0M638.1 375.1h0M636.4 374.7h0M638.9 377.7h0M640.6 376.4h0M642.3 376.9h0M643.9 377.3h0M645.8 377.7h0M647.5 378.1h0M649.1 377.7h0M650.9 377.2h0M652.6 376.8h0M654.1 376.2h0M655.8 377.7h0M648.1 379.6h0M650.0 379.1h0M651.6 378.5h0M653.4 378.1h0M655.2 379.6h0M656.8 379.1h0M646.4 379.4h0M644.8 379.0h0M643.1 378.7h0M641.5 378.2h0M639.7 379.4h0M637.9 379.0h0M632.1 381.1h0M633.8 381.5h0M635.6 380.2h0M637.3 380.6h0M638.9 381.0h0M640.5 379.6h0M642.3 380.0h0M644.1 380.7h0M645.8 381.1h0M647.4 381.4h0M649.0 381.1h0M650.9 380.5h0M652.4 380.1h0M654.2 379.7h0M655.8 381.1h0M657.6 380.7h0M659.3 380.1h0M660.9 381.6h0M662.7 381.1h0M648.4 383.5h0M649.9 382.9h0M651.8 382.5h0M653.5 381.9h0M654.9 383.5h0M656.7 382.9h0M658.4 382.5h0M660.3 382.1h0M661.9 383.3h0M663.6 382.8h0M646.5 383.5h0M644.8 382.9h0M643.2 382.4h0M641.5 382.0h0M639.7 383.5h0M637.9 383.0h0M636.3 382.4h0M634.5 382.1h0M633.0 383.4h0M631.3 383.0h0M638.9 384.8h0M640.7 383.4h0M642.4 383.8h0M644.0 384.3h0M645.6 384.8h0M647.3 385.2h0M649.1 384.6h0M650.9 384.3h0M652.4 383.8h0M654.2 383.3h0M655.8 384.6h0M648.3 386.9h0M650.0 386.3h0M651.5 385.9h0M653.4 385.4h0M654.9 386.8h0M646.5 386.8h0M645.0 386.3h0M643.0 385.9h0M641.4 385.3h0M639.7 386.9h0M635.4 387.6h0M637.2 388.0h0M639.0 388.5h0M640.5 387.2h0M642.3 387.7h0M643.9 388.1h0M645.7 388.5h0M647.3 389.0h0M649.2 388.5h0M650.8 388.1h0M652.5 387.6h0M654.1 387.2h0M655.9 388.6h0M657.7 388.1h0M659.3 387.6h0M648.3 390.6h0M649.9 390.1h0M651.6 389.6h0M653.4 389.0h0M655.0 390.6h0M646.4 390.4h0M644.8 390.1h0M643.2 389.7h0M641.5 389.0h0M639.6 390.4h0M637.2 391.7h0M639.0 392.3h0M640.7 390.9h0M642.3 391.4h0M643.9 391.9h0M645.6 392.2h0M647.4 392.8h0M649.1 392.2h0M650.8 391.8h0M652.6 391.3h0M654.3 390.9h0M655.9 392.3h0M657.6 391.9h0M648.3 394.4h0M649.8 394.1h0M651.7 393.6h0M653.3 393.0h0M655.2 394.5h0M646.4 394.4h0M644.8 393.9h0M643.3 393.7h0M641.5 393.0h0M639.7 394.4h0M639.0 396.0h0M640.5 394.7h0M642.4 395.3h0M644.0 395.6h0M645.8 396.0h0M647.4 396.5h0M649.2 396.1h0M650.9 395.7h0M652.5 395.3h0M654.3 394.9h0M656.0 396.0h0M648.2 398.1h0M649.8 397.5h0M651.6 397.1h0M653.3 396.6h0M646.6 398.0h0M644.8 397.5h0M643.2 397.1h0M641.5 396.5h0M642.3 398.8h0M643.9 399.1h0M645.7 399.6h0M647.3 400.2h0M649.2 399.7h0M650.7 399.3h0M652.6 398.8h0M648.2 401.6h0M650.0 401.2h0M646.7 401.6h0M644.8 401.2h0M644.0 403.0h0M645.7 403.4h0M647.4 403.9h0M649.1 403.3h0M650.9 403.0h0M648.3 405.2h0M649.8 404.8h0M646.4 405.2h0M644.8 404.7h0M644.0 406.4h0M645.7 406.9h0M647.3 407.5h0M649.2 406.9h0M650.7 406.4h0M648.3 409.1h0M649.9 408.5h0M646.6 408.9h0M644.8 408.5h0M644.0 410.3h0M645.6 410.9h0M647.5 411.4h0M649.0 410.9h0M650.7 410.3h0M648.3 413.0h0M650.1 412.5h0M646.6 413.1h0M644.8 412.5h0M645.6 414.2h0M647.4 414.8h0M649.1 414.4h0M648.2 416.5h0M646.5 416.5h0M645.6 418.2h0M647.4 418.7h0M649.0 418.2h0M648.3 419.9h0M646.6 420.0h0M645.7 421.8h0M647.5 422.4h0M649.2 421.8h0M648.4 424.3h0M646.5 424.2h0M645.6 425.8h0M647.4 426.2h0M649.1 425.8h0M647.3 428.1h0M647.4 332.3h0M647.7 337.0h0M647.4 473.3h0M647.3 480.4h0" stroke="#262626" stroke-width="2.3" stroke-linecap="round" fill="none"/>
<circle cx="647.6" cy="287.4" r="1" fill="#262626"/>
<g stroke="#e44a60" stroke-width="1.1" fill="none"><line x1="427.1" x2="427.1" y1="345.5" y2="362"/><line x1="427.1" x2="427.1" y1="384.5" y2="451.8"/><line x1="418.4" x2="435.8" y1="345.5" y2="345.5"/><line x1="418.4" x2="435.8" y1="451.8" y2="451.8"/><rect x="418.2" y="362" width="17.7" height="22.5"/><line x1="418.2" x2="436" y1="373.9" y2="373.9"/></g>
<g stroke="#e44a60" stroke-width="1.1" fill="none"><line x1="500.6" x2="500.6" y1="347.6" y2="363.9"/><line x1="500.6" x2="500.6" y1="387" y2="454.1"/><line x1="491.8" x2="509.5" y1="347.6" y2="347.6"/><line x1="491.8" x2="509.5" y1="454.1" y2="454.1"/><rect x="491.2" y="363.9" width="18.8" height="23.1"/><line x1="491.2" x2="510" y1="374.1" y2="374.1"/></g>
<g stroke="#e44a60" stroke-width="1.1" fill="none"><line x1="574.2" x2="574.2" y1="345.8" y2="362"/><line x1="574.2" x2="574.2" y1="385.7" y2="442"/><line x1="565.4" x2="583.1" y1="345.8" y2="345.8"/><line x1="565.4" x2="583.1" y1="442" y2="442"/><rect x="565" y="362" width="18.4" height="23.7"/><line x1="565" x2="583.4" y1="373.1" y2="373.1"/></g>
<g stroke="#e44a60" stroke-width="1.1" fill="none"><line x1="647.4" x2="647.4" y1="346.5" y2="364.2"/><line x1="647.4" x2="647.4" y1="389.5" y2="480.4"/><line x1="638.5" x2="656.3" y1="346.5" y2="346.5"/><line x1="638.5" x2="656.3" y1="480.4" y2="480.4"/><rect x="638" y="364.2" width="18.7" height="25.3"/><line x1="638" x2="656.8" y1="376.1" y2="376.1"/></g>
<g stroke="#000" stroke-width="2"><line x1="78.9" x2="157.2" y1="334.7" y2="334.7"/><line x1="157" x2="235.6" y1="322.9" y2="322.9"/><line x1="235.6" x2="313.8" y1="283.2" y2="283.2"/></g>
<path d="M110.20 326.90L110.20 323.60M110.20 326.90L113.34 325.88M110.20 326.90L112.14 329.57M110.20 326.90L108.26 329.57M110.20 326.90L107.06 325.88" stroke="#ff0000" stroke-width="1.6" fill="none"/>
<path d="M117.20 326.90L117.20 323.60M117.20 326.90L120.34 325.88M117.20 326.90L119.14 329.57M117.20 326.90L115.26 329.57M117.20 326.90L114.06 325.88" stroke="#ff0000" stroke-width="1.6" fill="none"/>
<path d="M124.20 326.90L124.20 323.60M124.20 326.90L127.34 325.88M124.20 326.90L126.14 329.57M124.20 326.90L122.26 329.57M124.20 326.90L121.06 325.88" stroke="#ff0000" stroke-width="1.6" fill="none"/>
<path d="M187.90 315.10L187.90 311.80M187.90 315.10L191.04 314.08M187.90 315.10L189.84 317.77M187.90 315.10L185.96 317.77M187.90 315.10L184.76 314.08" stroke="#ff0000" stroke-width="1.6" fill="none"/>
<path d="M194.90 315.10L194.90 311.80M194.90 315.10L198.04 314.08M194.90 315.10L196.84 317.77M194.90 315.10L192.96 317.77M194.90 315.10L191.76 314.08" stroke="#ff0000" stroke-width="1.6" fill="none"/>
<path d="M201.90 315.10L201.90 311.80M201.90 315.10L205.04 314.08M201.90 315.10L203.84 317.77M201.90 315.10L199.96 317.77M201.90 315.10L198.76 314.08" stroke="#ff0000" stroke-width="1.6" fill="none"/>
<path d="M268.40 278.00L268.40 274.70M268.40 278.00L271.54 276.98M268.40 278.00L270.34 280.67M268.40 278.00L266.46 280.67M268.40 278.00L265.26 276.98" stroke="#ff0000" stroke-width="1.6" fill="none"/>
<path d="M275.40 278.00L275.40 274.70M275.40 278.00L278.54 276.98M275.40 278.00L277.34 280.67M275.40 278.00L273.46 280.67M275.40 278.00L272.26 276.98" stroke="#ff0000" stroke-width="1.6" fill="none"/>
<path d="M282.40 278.00L282.40 274.70M282.40 278.00L285.54 276.98M282.40 278.00L284.34 280.67M282.40 278.00L280.46 280.67M282.40 278.00L279.26 276.98" stroke="#ff0000" stroke-width="1.6" fill="none"/>
<g stroke="#000" stroke-width="1.8"><line x1="424.9" x2="503.2" y1="316.9" y2="316.9"/><line x1="500.2" x2="578.5" y1="306.8" y2="306.8"/><line x1="572" x2="650.4" y1="314.7" y2="314.7"/></g>
<text x="464.4" y="311.3" text-anchor="middle" class="ns">ns</text>
<text x="539.8" y="300.3" text-anchor="middle" class="ns">ns</text>
<text x="612.4" y="309.4" text-anchor="middle" class="ns">ns</text>
</svg></body></html>
